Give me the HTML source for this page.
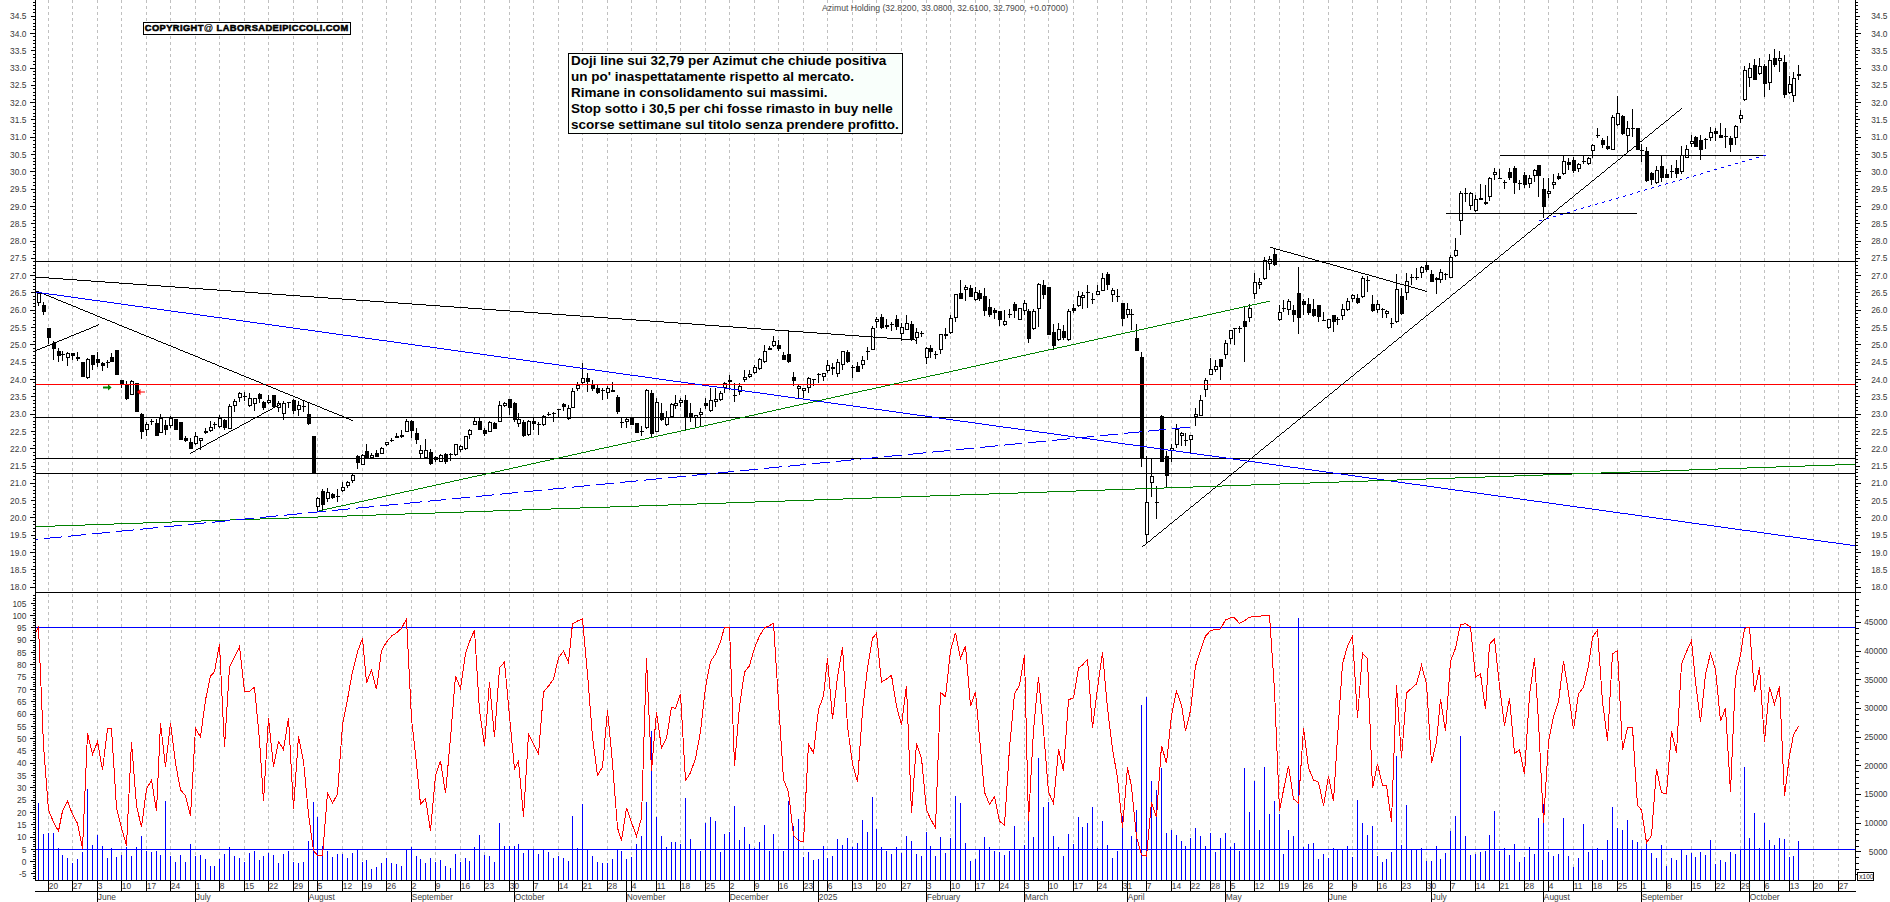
<!DOCTYPE html>
<html><head><meta charset="utf-8"><title>Azimut Holding</title>
<style>
html,body{margin:0;padding:0;background:#fff;}
body{width:1890px;height:902px;position:relative;overflow:hidden;font-family:"Liberation Sans",sans-serif;}
.l{position:absolute;font-size:8.4px;line-height:10px;color:#3a3a3a;white-space:nowrap;letter-spacing:0px;}
.r{text-align:right;}
#title{position:absolute;left:822px;top:2.5px;font-size:8.65px;line-height:10px;color:#4a4a4a;white-space:nowrap;width:246px;}
#cp{position:absolute;left:143px;top:22px;width:206px;height:11px;border:1px solid #000;background:#fff;box-sizing:content-box;}
#cp span{position:absolute;left:0.8px;top:-1.2px;font-size:9.3px;line-height:12px;font-weight:bold;color:#000;white-space:nowrap;-webkit-text-stroke:0.55px #000;letter-spacing:0.41px;transform-origin:0 0;}
#cp i{font-style:normal;font-weight:normal;-webkit-text-stroke:0.2px #000;}
#note{position:absolute;left:568px;top:53px;width:333px;height:79px;border:1px solid #000;background:#f9fffb;}
#note div{position:absolute;left:2px;top:-0.8px;font-size:13.5px;line-height:16px;font-weight:bold;color:#000;white-space:nowrap;}
</style></head><body>
<svg width="1890" height="902" viewBox="0 0 1890 902" shape-rendering="crispEdges" style="position:absolute;left:0;top:0"><rect x="0" y="0" width="1890" height="902" fill="#fff"/><path d="M48.5 0V880 M72.5 0V880 M97.5 0V880 M121.5 0V880 M146.5 0V880 M170.5 0V880 M195.5 0V880 M219.5 0V880 M244.5 0V880 M268.5 0V880 M293.5 0V880 M317.5 0V880 M342.5 0V880 M362.5 0V880 M386.5 0V880 M411.5 0V880 M435.5 0V880 M460.5 0V880 M484.5 0V880 M509.5 0V880 M533.5 0V880 M558.5 0V880 M582.5 0V880 M607.5 0V880 M631.5 0V880 M656.5 0V880 M680.5 0V880 M705.5 0V880 M729.5 0V880 M754.5 0V880 M778.5 0V880 M803.5 0V880 M827.5 0V880 M852.5 0V880 M876.5 0V880 M901.5 0V880 M926.5 0V880 M950.5 0V880 M975.5 0V880 M999.5 0V880 M1024.5 0V880 M1048.5 0V880 M1073.5 0V880 M1097.5 0V880 M1122.5 0V880 M1146.5 0V880 M1171.5 0V880 M1190.5 0V880 M1210.5 0V880 M1230.5 0V880 M1254.5 0V880 M1279.5 0V880 M1303.5 0V880 M1328.5 0V880 M1352.5 0V880 M1377.5 0V880 M1401.5 0V880 M1426.5 0V880 M1450.5 0V880 M1475.5 0V880 M1499.5 0V880 M1524.5 0V880 M1548.5 0V880 M1573.5 0V880 M1592.5 0V880 M1617.5 0V880 M1641.5 0V880 M1666.5 0V880 M1691.5 0V880 M1715.5 0V880 M1740.5 0V880 M1764.5 0V880 M1789.5 0V880 M1813.5 0V880 M1838.5 0V880" stroke="#c0c0c0" stroke-width="1" stroke-dasharray="3 3" fill="none"/><rect x="38" y="292" width="1" height="14" fill="#000"/><rect x="37" y="293" width="4" height="10" fill="#000"/><rect x="38" y="294" width="2" height="8" fill="#fff"/><rect x="43" y="302" width="1" height="13" fill="#000"/><rect x="42" y="305" width="4" height="7" fill="#000"/><rect x="48" y="328" width="1" height="16" fill="#000"/><rect x="47" y="328" width="4" height="10" fill="#000"/><rect x="53" y="341" width="1" height="19" fill="#000"/><rect x="52" y="343" width="4" height="6" fill="#000"/><rect x="58" y="348" width="1" height="14" fill="#000"/><rect x="57" y="351" width="4" height="5" fill="#000"/><rect x="62" y="351" width="1" height="10" fill="#000"/><rect x="61" y="354" width="4" height="1" fill="#000"/><rect x="67" y="352" width="1" height="14" fill="#000"/><rect x="66" y="353" width="4" height="5" fill="#000"/><rect x="67" y="354" width="2" height="3" fill="#fff"/><rect x="72" y="353" width="1" height="7" fill="#000"/><rect x="71" y="353" width="4" height="3" fill="#000"/><rect x="77" y="352" width="1" height="9" fill="#000"/><rect x="76" y="357" width="4" height="2" fill="#000"/><rect x="82" y="362" width="1" height="15" fill="#000"/><rect x="81" y="362" width="4" height="15" fill="#000"/><rect x="87" y="358" width="1" height="21" fill="#000"/><rect x="86" y="359" width="4" height="19" fill="#000"/><rect x="87" y="360" width="2" height="17" fill="#fff"/><rect x="92" y="355" width="1" height="15" fill="#000"/><rect x="91" y="355" width="4" height="10" fill="#000"/><rect x="97" y="352" width="1" height="15" fill="#000"/><rect x="96" y="359" width="4" height="4" fill="#000"/><rect x="102" y="362" width="1" height="9" fill="#000"/><rect x="101" y="363" width="4" height="3" fill="#000"/><rect x="107" y="360" width="1" height="8" fill="#000"/><rect x="106" y="362" width="4" height="1" fill="#000"/><rect x="111" y="353" width="1" height="9" fill="#000"/><rect x="110" y="357" width="4" height="5" fill="#000"/><rect x="116" y="350" width="1" height="25" fill="#000"/><rect x="115" y="350" width="4" height="25" fill="#000"/><rect x="121" y="380" width="1" height="8" fill="#000"/><rect x="120" y="380" width="4" height="5" fill="#000"/><rect x="126" y="381" width="1" height="19" fill="#000"/><rect x="125" y="384" width="4" height="15" fill="#000"/><rect x="131" y="380" width="1" height="15" fill="#000"/><rect x="130" y="381" width="4" height="14" fill="#000"/><rect x="131" y="382" width="2" height="12" fill="#fff"/><rect x="136" y="383" width="1" height="29" fill="#000"/><rect x="135" y="383" width="4" height="29" fill="#000"/><rect x="141" y="413" width="1" height="26" fill="#000"/><rect x="140" y="414" width="4" height="18" fill="#000"/><rect x="146" y="422" width="1" height="14" fill="#000"/><rect x="145" y="424" width="4" height="6" fill="#000"/><rect x="146" y="425" width="2" height="4" fill="#fff"/><rect x="151" y="419" width="1" height="6" fill="#000"/><rect x="150" y="421" width="4" height="1" fill="#000"/><rect x="156" y="419" width="1" height="17" fill="#000"/><rect x="155" y="423" width="4" height="13" fill="#000"/><rect x="160" y="414" width="1" height="19" fill="#000"/><rect x="159" y="418" width="4" height="15" fill="#000"/><rect x="160" y="419" width="2" height="13" fill="#fff"/><rect x="165" y="420" width="1" height="15" fill="#000"/><rect x="164" y="425" width="4" height="5" fill="#000"/><rect x="170" y="416" width="1" height="12" fill="#000"/><rect x="169" y="418" width="4" height="8" fill="#000"/><rect x="170" y="419" width="2" height="6" fill="#fff"/><rect x="175" y="419" width="1" height="11" fill="#000"/><rect x="174" y="419" width="4" height="11" fill="#000"/><rect x="180" y="422" width="1" height="18" fill="#000"/><rect x="179" y="422" width="4" height="18" fill="#000"/><rect x="185" y="436" width="1" height="6" fill="#000"/><rect x="184" y="438" width="4" height="3" fill="#000"/><rect x="190" y="438" width="1" height="11" fill="#000"/><rect x="189" y="442" width="4" height="7" fill="#000"/><rect x="195" y="432" width="1" height="13" fill="#000"/><rect x="194" y="436" width="4" height="8" fill="#000"/><rect x="195" y="437" width="2" height="6" fill="#fff"/><rect x="200" y="438" width="1" height="12" fill="#000"/><rect x="199" y="438" width="4" height="3" fill="#000"/><rect x="200" y="439" width="2" height="1" fill="#fff"/><rect x="205" y="428" width="1" height="6" fill="#000"/><rect x="204" y="431" width="4" height="2" fill="#000"/><rect x="210" y="421" width="1" height="11" fill="#000"/><rect x="209" y="427" width="4" height="4" fill="#000"/><rect x="210" y="428" width="2" height="2" fill="#fff"/><rect x="214" y="422" width="1" height="7" fill="#000"/><rect x="213" y="424" width="4" height="1" fill="#000"/><rect x="219" y="415" width="1" height="13" fill="#000"/><rect x="218" y="418" width="4" height="9" fill="#000"/><rect x="219" y="419" width="2" height="7" fill="#fff"/><rect x="224" y="419" width="1" height="11" fill="#000"/><rect x="223" y="420" width="4" height="8" fill="#000"/><rect x="229" y="404" width="1" height="25" fill="#000"/><rect x="228" y="406" width="4" height="23" fill="#000"/><rect x="229" y="407" width="2" height="21" fill="#fff"/><rect x="234" y="399" width="1" height="13" fill="#000"/><rect x="233" y="401" width="4" height="5" fill="#000"/><rect x="234" y="402" width="2" height="3" fill="#fff"/><rect x="239" y="392" width="1" height="10" fill="#000"/><rect x="238" y="393" width="4" height="5" fill="#000"/><rect x="239" y="394" width="2" height="3" fill="#fff"/><rect x="244" y="392" width="1" height="9" fill="#000"/><rect x="243" y="396" width="4" height="1" fill="#000"/><rect x="249" y="393" width="1" height="14" fill="#000"/><rect x="248" y="398" width="4" height="8" fill="#000"/><rect x="249" y="399" width="2" height="6" fill="#fff"/><rect x="254" y="398" width="1" height="13" fill="#000"/><rect x="253" y="398" width="4" height="6" fill="#000"/><rect x="254" y="399" width="2" height="4" fill="#fff"/><rect x="259" y="393" width="1" height="10" fill="#000"/><rect x="258" y="394" width="4" height="5" fill="#000"/><rect x="263" y="401" width="1" height="9" fill="#000"/><rect x="262" y="402" width="4" height="6" fill="#000"/><rect x="268" y="395" width="1" height="9" fill="#000"/><rect x="267" y="400" width="4" height="3" fill="#000"/><rect x="268" y="401" width="2" height="1" fill="#fff"/><rect x="273" y="395" width="1" height="12" fill="#000"/><rect x="272" y="395" width="4" height="12" fill="#000"/><rect x="278" y="401" width="1" height="11" fill="#000"/><rect x="277" y="403" width="4" height="5" fill="#000"/><rect x="278" y="404" width="2" height="3" fill="#fff"/><rect x="283" y="401" width="1" height="19" fill="#000"/><rect x="282" y="403" width="4" height="11" fill="#000"/><rect x="283" y="404" width="2" height="9" fill="#fff"/><rect x="288" y="402" width="1" height="6" fill="#000"/><rect x="287" y="402" width="4" height="1" fill="#000"/><rect x="293" y="399" width="1" height="15" fill="#000"/><rect x="292" y="400" width="4" height="11" fill="#000"/><rect x="298" y="401" width="1" height="15" fill="#000"/><rect x="297" y="405" width="4" height="5" fill="#000"/><rect x="298" y="406" width="2" height="3" fill="#fff"/><rect x="303" y="401" width="1" height="11" fill="#000"/><rect x="302" y="406" width="4" height="1" fill="#000"/><rect x="308" y="402" width="1" height="23" fill="#000"/><rect x="307" y="414" width="4" height="10" fill="#000"/><rect x="313" y="436" width="1" height="37" fill="#000"/><rect x="312" y="436" width="4" height="37" fill="#000"/><rect x="317" y="497" width="1" height="15" fill="#000"/><rect x="316" y="498" width="4" height="9" fill="#000"/><rect x="317" y="499" width="2" height="7" fill="#fff"/><rect x="322" y="489" width="1" height="21" fill="#000"/><rect x="321" y="491" width="4" height="14" fill="#000"/><rect x="327" y="488" width="1" height="14" fill="#000"/><rect x="326" y="492" width="4" height="7" fill="#000"/><rect x="327" y="493" width="2" height="5" fill="#fff"/><rect x="332" y="493" width="1" height="6" fill="#000"/><rect x="331" y="494" width="4" height="4" fill="#000"/><rect x="337" y="489" width="1" height="13" fill="#000"/><rect x="336" y="496" width="4" height="1" fill="#000"/><rect x="342" y="482" width="1" height="10" fill="#000"/><rect x="341" y="487" width="4" height="4" fill="#000"/><rect x="342" y="488" width="2" height="2" fill="#fff"/><rect x="347" y="481" width="1" height="7" fill="#000"/><rect x="346" y="482" width="4" height="4" fill="#000"/><rect x="347" y="483" width="2" height="2" fill="#fff"/><rect x="352" y="474" width="1" height="9" fill="#000"/><rect x="351" y="475" width="4" height="6" fill="#000"/><rect x="352" y="476" width="2" height="4" fill="#fff"/><rect x="357" y="455" width="1" height="14" fill="#000"/><rect x="356" y="456" width="4" height="7" fill="#000"/><rect x="362" y="454" width="1" height="11" fill="#000"/><rect x="361" y="455" width="4" height="10" fill="#000"/><rect x="362" y="456" width="2" height="8" fill="#fff"/><rect x="366" y="444" width="1" height="14" fill="#000"/><rect x="365" y="451" width="4" height="7" fill="#000"/><rect x="371" y="453" width="1" height="5" fill="#000"/><rect x="370" y="455" width="4" height="3" fill="#000"/><rect x="371" y="456" width="2" height="1" fill="#fff"/><rect x="376" y="450" width="1" height="7" fill="#000"/><rect x="375" y="453" width="4" height="4" fill="#000"/><rect x="381" y="447" width="1" height="7" fill="#000"/><rect x="380" y="448" width="4" height="6" fill="#000"/><rect x="381" y="449" width="2" height="4" fill="#fff"/><rect x="386" y="442" width="1" height="4" fill="#000"/><rect x="385" y="442" width="4" height="3" fill="#000"/><rect x="386" y="443" width="2" height="1" fill="#fff"/><rect x="391" y="438" width="1" height="4" fill="#000"/><rect x="390" y="440" width="4" height="1" fill="#000"/><rect x="396" y="433" width="1" height="5" fill="#000"/><rect x="395" y="436" width="4" height="2" fill="#000"/><rect x="401" y="430" width="1" height="8" fill="#000"/><rect x="400" y="435" width="4" height="2" fill="#000"/><rect x="406" y="419" width="1" height="13" fill="#000"/><rect x="405" y="421" width="4" height="11" fill="#000"/><rect x="406" y="422" width="2" height="9" fill="#fff"/><rect x="411" y="420" width="1" height="18" fill="#000"/><rect x="410" y="421" width="4" height="10" fill="#000"/><rect x="416" y="428" width="1" height="16" fill="#000"/><rect x="415" y="433" width="4" height="7" fill="#000"/><rect x="420" y="445" width="1" height="13" fill="#000"/><rect x="419" y="450" width="4" height="4" fill="#000"/><rect x="420" y="451" width="2" height="2" fill="#fff"/><rect x="425" y="439" width="1" height="19" fill="#000"/><rect x="424" y="450" width="4" height="8" fill="#000"/><rect x="425" y="451" width="2" height="6" fill="#fff"/><rect x="430" y="449" width="1" height="16" fill="#000"/><rect x="429" y="452" width="4" height="12" fill="#000"/><rect x="435" y="456" width="1" height="6" fill="#000"/><rect x="434" y="457" width="4" height="3" fill="#000"/><rect x="440" y="454" width="1" height="8" fill="#000"/><rect x="439" y="455" width="4" height="7" fill="#000"/><rect x="440" y="456" width="2" height="5" fill="#fff"/><rect x="445" y="453" width="1" height="11" fill="#000"/><rect x="444" y="454" width="4" height="8" fill="#000"/><rect x="450" y="453" width="1" height="8" fill="#000"/><rect x="449" y="454" width="4" height="1" fill="#000"/><rect x="455" y="444" width="1" height="12" fill="#000"/><rect x="454" y="444" width="4" height="11" fill="#000"/><rect x="455" y="445" width="2" height="9" fill="#fff"/><rect x="460" y="445" width="1" height="7" fill="#000"/><rect x="459" y="446" width="4" height="4" fill="#000"/><rect x="460" y="447" width="2" height="2" fill="#fff"/><rect x="465" y="436" width="1" height="14" fill="#000"/><rect x="464" y="436" width="4" height="13" fill="#000"/><rect x="465" y="437" width="2" height="11" fill="#fff"/><rect x="469" y="429" width="1" height="10" fill="#000"/><rect x="468" y="430" width="4" height="5" fill="#000"/><rect x="469" y="431" width="2" height="3" fill="#fff"/><rect x="474" y="418" width="1" height="7" fill="#000"/><rect x="473" y="421" width="4" height="4" fill="#000"/><rect x="474" y="422" width="2" height="2" fill="#fff"/><rect x="479" y="418" width="1" height="12" fill="#000"/><rect x="478" y="421" width="4" height="9" fill="#000"/><rect x="484" y="428" width="1" height="8" fill="#000"/><rect x="483" y="430" width="4" height="4" fill="#000"/><rect x="489" y="421" width="1" height="11" fill="#000"/><rect x="488" y="422" width="4" height="10" fill="#000"/><rect x="489" y="423" width="2" height="8" fill="#fff"/><rect x="494" y="422" width="1" height="7" fill="#000"/><rect x="493" y="423" width="4" height="6" fill="#000"/><rect x="499" y="401" width="1" height="21" fill="#000"/><rect x="498" y="405" width="4" height="17" fill="#000"/><rect x="499" y="406" width="2" height="15" fill="#fff"/><rect x="504" y="402" width="1" height="5" fill="#000"/><rect x="503" y="403" width="4" height="3" fill="#000"/><rect x="504" y="404" width="2" height="1" fill="#fff"/><rect x="509" y="399" width="1" height="16" fill="#000"/><rect x="508" y="399" width="4" height="9" fill="#000"/><rect x="514" y="402" width="1" height="20" fill="#000"/><rect x="513" y="403" width="4" height="17" fill="#000"/><rect x="518" y="413" width="1" height="14" fill="#000"/><rect x="517" y="419" width="4" height="5" fill="#000"/><rect x="518" y="420" width="2" height="3" fill="#fff"/><rect x="523" y="420" width="1" height="17" fill="#000"/><rect x="522" y="422" width="4" height="14" fill="#000"/><rect x="528" y="420" width="1" height="16" fill="#000"/><rect x="527" y="421" width="4" height="14" fill="#000"/><rect x="528" y="422" width="2" height="12" fill="#fff"/><rect x="533" y="418" width="1" height="12" fill="#000"/><rect x="532" y="421" width="4" height="3" fill="#000"/><rect x="538" y="422" width="1" height="13" fill="#000"/><rect x="537" y="424" width="4" height="1" fill="#000"/><rect x="543" y="415" width="1" height="11" fill="#000"/><rect x="542" y="416" width="4" height="9" fill="#000"/><rect x="543" y="417" width="2" height="7" fill="#fff"/><rect x="548" y="412" width="1" height="4" fill="#000"/><rect x="547" y="414" width="4" height="1" fill="#000"/><rect x="553" y="412" width="1" height="10" fill="#000"/><rect x="552" y="413" width="4" height="1" fill="#000"/><rect x="558" y="409" width="1" height="8" fill="#000"/><rect x="557" y="409" width="4" height="1" fill="#000"/><rect x="563" y="403" width="1" height="8" fill="#000"/><rect x="562" y="404" width="4" height="3" fill="#000"/><rect x="568" y="405" width="1" height="15" fill="#000"/><rect x="567" y="408" width="4" height="11" fill="#000"/><rect x="568" y="409" width="2" height="9" fill="#fff"/><rect x="572" y="388" width="1" height="20" fill="#000"/><rect x="571" y="391" width="4" height="17" fill="#000"/><rect x="572" y="392" width="2" height="15" fill="#fff"/><rect x="577" y="382" width="1" height="9" fill="#000"/><rect x="576" y="385" width="4" height="4" fill="#000"/><rect x="577" y="386" width="2" height="2" fill="#fff"/><rect x="582" y="363" width="1" height="21" fill="#000"/><rect x="581" y="378" width="4" height="5" fill="#000"/><rect x="582" y="379" width="2" height="3" fill="#fff"/><rect x="587" y="373" width="1" height="19" fill="#000"/><rect x="586" y="378" width="4" height="4" fill="#000"/><rect x="592" y="380" width="1" height="11" fill="#000"/><rect x="591" y="385" width="4" height="4" fill="#000"/><rect x="597" y="385" width="1" height="9" fill="#000"/><rect x="596" y="388" width="4" height="5" fill="#000"/><rect x="602" y="388" width="1" height="12" fill="#000"/><rect x="601" y="390" width="4" height="1" fill="#000"/><rect x="607" y="386" width="1" height="13" fill="#000"/><rect x="606" y="388" width="4" height="5" fill="#000"/><rect x="607" y="389" width="2" height="3" fill="#fff"/><rect x="612" y="382" width="1" height="10" fill="#000"/><rect x="611" y="390" width="4" height="2" fill="#000"/><rect x="617" y="395" width="1" height="19" fill="#000"/><rect x="616" y="397" width="4" height="15" fill="#000"/><rect x="621" y="417" width="1" height="11" fill="#000"/><rect x="620" y="422" width="4" height="1" fill="#000"/><rect x="626" y="417" width="1" height="11" fill="#000"/><rect x="625" y="419" width="4" height="3" fill="#000"/><rect x="626" y="420" width="2" height="1" fill="#fff"/><rect x="631" y="418" width="1" height="7" fill="#000"/><rect x="630" y="418" width="4" height="7" fill="#000"/><rect x="636" y="423" width="1" height="10" fill="#000"/><rect x="635" y="423" width="4" height="10" fill="#000"/><rect x="641" y="426" width="1" height="10" fill="#000"/><rect x="640" y="431" width="4" height="1" fill="#000"/><rect x="646" y="389" width="1" height="40" fill="#000"/><rect x="645" y="390" width="4" height="38" fill="#000"/><rect x="646" y="391" width="2" height="36" fill="#fff"/><rect x="651" y="390" width="1" height="47" fill="#000"/><rect x="650" y="393" width="4" height="41" fill="#000"/><rect x="656" y="398" width="1" height="34" fill="#000"/><rect x="655" y="402" width="4" height="30" fill="#000"/><rect x="656" y="403" width="2" height="28" fill="#fff"/><rect x="661" y="403" width="1" height="18" fill="#000"/><rect x="660" y="413" width="4" height="7" fill="#000"/><rect x="666" y="411" width="1" height="15" fill="#000"/><rect x="665" y="417" width="4" height="8" fill="#000"/><rect x="666" y="418" width="2" height="6" fill="#fff"/><rect x="671" y="403" width="1" height="14" fill="#000"/><rect x="670" y="404" width="4" height="13" fill="#000"/><rect x="671" y="405" width="2" height="11" fill="#fff"/><rect x="675" y="395" width="1" height="14" fill="#000"/><rect x="674" y="403" width="4" height="3" fill="#000"/><rect x="675" y="404" width="2" height="1" fill="#fff"/><rect x="680" y="398" width="1" height="9" fill="#000"/><rect x="679" y="400" width="4" height="3" fill="#000"/><rect x="680" y="401" width="2" height="1" fill="#fff"/><rect x="685" y="395" width="1" height="35" fill="#000"/><rect x="684" y="400" width="4" height="18" fill="#000"/><rect x="690" y="403" width="1" height="19" fill="#000"/><rect x="689" y="413" width="4" height="5" fill="#000"/><rect x="695" y="415" width="1" height="13" fill="#000"/><rect x="694" y="415" width="4" height="3" fill="#000"/><rect x="695" y="416" width="2" height="1" fill="#fff"/><rect x="700" y="408" width="1" height="18" fill="#000"/><rect x="699" y="412" width="4" height="3" fill="#000"/><rect x="700" y="413" width="2" height="1" fill="#fff"/><rect x="705" y="398" width="1" height="11" fill="#000"/><rect x="704" y="403" width="4" height="3" fill="#000"/><rect x="710" y="388" width="1" height="24" fill="#000"/><rect x="709" y="400" width="4" height="11" fill="#000"/><rect x="710" y="401" width="2" height="9" fill="#fff"/><rect x="715" y="388" width="1" height="19" fill="#000"/><rect x="714" y="399" width="4" height="3" fill="#000"/><rect x="715" y="400" width="2" height="1" fill="#fff"/><rect x="720" y="391" width="1" height="10" fill="#000"/><rect x="719" y="393" width="4" height="7" fill="#000"/><rect x="720" y="394" width="2" height="5" fill="#fff"/><rect x="724" y="382" width="1" height="11" fill="#000"/><rect x="723" y="383" width="4" height="5" fill="#000"/><rect x="724" y="384" width="2" height="3" fill="#fff"/><rect x="729" y="375" width="1" height="15" fill="#000"/><rect x="728" y="380" width="4" height="2" fill="#000"/><rect x="734" y="383" width="1" height="19" fill="#000"/><rect x="733" y="395" width="4" height="1" fill="#000"/><rect x="739" y="383" width="1" height="12" fill="#000"/><rect x="738" y="386" width="4" height="6" fill="#000"/><rect x="739" y="387" width="2" height="4" fill="#fff"/><rect x="744" y="370" width="1" height="12" fill="#000"/><rect x="743" y="377" width="4" height="3" fill="#000"/><rect x="744" y="378" width="2" height="1" fill="#fff"/><rect x="749" y="370" width="1" height="8" fill="#000"/><rect x="748" y="374" width="4" height="3" fill="#000"/><rect x="749" y="375" width="2" height="1" fill="#fff"/><rect x="754" y="365" width="1" height="9" fill="#000"/><rect x="753" y="367" width="4" height="6" fill="#000"/><rect x="754" y="368" width="2" height="4" fill="#fff"/><rect x="759" y="358" width="1" height="12" fill="#000"/><rect x="758" y="359" width="4" height="10" fill="#000"/><rect x="759" y="360" width="2" height="8" fill="#fff"/><rect x="764" y="345" width="1" height="18" fill="#000"/><rect x="763" y="351" width="4" height="11" fill="#000"/><rect x="764" y="352" width="2" height="9" fill="#fff"/><rect x="769" y="346" width="1" height="4" fill="#000"/><rect x="768" y="348" width="4" height="2" fill="#000"/><rect x="773" y="336" width="1" height="11" fill="#000"/><rect x="772" y="341" width="4" height="5" fill="#000"/><rect x="773" y="342" width="2" height="3" fill="#fff"/><rect x="778" y="340" width="1" height="11" fill="#000"/><rect x="777" y="345" width="4" height="4" fill="#000"/><rect x="783" y="352" width="1" height="8" fill="#000"/><rect x="782" y="355" width="4" height="5" fill="#000"/><rect x="788" y="330" width="1" height="33" fill="#000"/><rect x="787" y="354" width="4" height="8" fill="#000"/><rect x="793" y="372" width="1" height="14" fill="#000"/><rect x="792" y="377" width="4" height="4" fill="#000"/><rect x="798" y="385" width="1" height="13" fill="#000"/><rect x="797" y="386" width="4" height="3" fill="#000"/><rect x="798" y="387" width="2" height="1" fill="#fff"/><rect x="803" y="388" width="1" height="10" fill="#000"/><rect x="802" y="388" width="4" height="3" fill="#000"/><rect x="803" y="389" width="2" height="1" fill="#fff"/><rect x="808" y="377" width="1" height="16" fill="#000"/><rect x="807" y="378" width="4" height="10" fill="#000"/><rect x="808" y="379" width="2" height="8" fill="#fff"/><rect x="813" y="379" width="1" height="7" fill="#000"/><rect x="812" y="379" width="4" height="1" fill="#000"/><rect x="818" y="373" width="1" height="10" fill="#000"/><rect x="817" y="374" width="4" height="1" fill="#000"/><rect x="823" y="373" width="1" height="8" fill="#000"/><rect x="822" y="373" width="4" height="4" fill="#000"/><rect x="823" y="374" width="2" height="2" fill="#fff"/><rect x="827" y="360" width="1" height="13" fill="#000"/><rect x="826" y="365" width="4" height="6" fill="#000"/><rect x="827" y="366" width="2" height="4" fill="#fff"/><rect x="832" y="363" width="1" height="12" fill="#000"/><rect x="831" y="367" width="4" height="2" fill="#000"/><rect x="837" y="359" width="1" height="18" fill="#000"/><rect x="836" y="362" width="4" height="12" fill="#000"/><rect x="837" y="363" width="2" height="10" fill="#fff"/><rect x="842" y="351" width="1" height="19" fill="#000"/><rect x="841" y="351" width="4" height="14" fill="#000"/><rect x="842" y="352" width="2" height="12" fill="#fff"/><rect x="847" y="350" width="1" height="13" fill="#000"/><rect x="846" y="352" width="4" height="10" fill="#000"/><rect x="852" y="365" width="1" height="13" fill="#000"/><rect x="851" y="367" width="4" height="1" fill="#000"/><rect x="857" y="362" width="1" height="10" fill="#000"/><rect x="856" y="366" width="4" height="6" fill="#000"/><rect x="862" y="356" width="1" height="13" fill="#000"/><rect x="861" y="360" width="4" height="5" fill="#000"/><rect x="862" y="361" width="2" height="3" fill="#fff"/><rect x="867" y="347" width="1" height="13" fill="#000"/><rect x="866" y="351" width="4" height="1" fill="#000"/><rect x="872" y="326" width="1" height="24" fill="#000"/><rect x="871" y="328" width="4" height="22" fill="#000"/><rect x="872" y="329" width="2" height="20" fill="#fff"/><rect x="876" y="317" width="1" height="11" fill="#000"/><rect x="875" y="319" width="4" height="3" fill="#000"/><rect x="876" y="320" width="2" height="1" fill="#fff"/><rect x="881" y="314" width="1" height="15" fill="#000"/><rect x="880" y="317" width="4" height="11" fill="#000"/><rect x="886" y="319" width="1" height="10" fill="#000"/><rect x="885" y="325" width="4" height="2" fill="#000"/><rect x="891" y="322" width="1" height="9" fill="#000"/><rect x="890" y="324" width="4" height="1" fill="#000"/><rect x="896" y="315" width="1" height="15" fill="#000"/><rect x="895" y="319" width="4" height="8" fill="#000"/><rect x="901" y="323" width="1" height="18" fill="#000"/><rect x="900" y="327" width="4" height="7" fill="#000"/><rect x="901" y="328" width="2" height="5" fill="#fff"/><rect x="906" y="315" width="1" height="15" fill="#000"/><rect x="905" y="323" width="4" height="7" fill="#000"/><rect x="906" y="324" width="2" height="5" fill="#fff"/><rect x="911" y="321" width="1" height="20" fill="#000"/><rect x="910" y="324" width="4" height="16" fill="#000"/><rect x="916" y="328" width="1" height="16" fill="#000"/><rect x="915" y="332" width="4" height="6" fill="#000"/><rect x="916" y="333" width="2" height="4" fill="#fff"/><rect x="921" y="331" width="1" height="6" fill="#000"/><rect x="920" y="333" width="4" height="1" fill="#000"/><rect x="926" y="347" width="1" height="17" fill="#000"/><rect x="925" y="348" width="4" height="10" fill="#000"/><rect x="926" y="349" width="2" height="8" fill="#fff"/><rect x="930" y="345" width="1" height="13" fill="#000"/><rect x="929" y="348" width="4" height="4" fill="#000"/><rect x="935" y="351" width="1" height="8" fill="#000"/><rect x="934" y="354" width="4" height="1" fill="#000"/><rect x="940" y="334" width="1" height="20" fill="#000"/><rect x="939" y="334" width="4" height="16" fill="#000"/><rect x="940" y="335" width="2" height="14" fill="#fff"/><rect x="945" y="328" width="1" height="11" fill="#000"/><rect x="944" y="334" width="4" height="2" fill="#000"/><rect x="950" y="315" width="1" height="19" fill="#000"/><rect x="949" y="318" width="4" height="15" fill="#000"/><rect x="950" y="319" width="2" height="13" fill="#fff"/><rect x="955" y="294" width="1" height="28" fill="#000"/><rect x="954" y="294" width="4" height="24" fill="#000"/><rect x="955" y="295" width="2" height="22" fill="#fff"/><rect x="960" y="280" width="1" height="19" fill="#000"/><rect x="959" y="293" width="4" height="6" fill="#000"/><rect x="965" y="285" width="1" height="16" fill="#000"/><rect x="964" y="287" width="4" height="3" fill="#000"/><rect x="965" y="288" width="2" height="1" fill="#fff"/><rect x="970" y="285" width="1" height="12" fill="#000"/><rect x="969" y="288" width="4" height="9" fill="#000"/><rect x="975" y="287" width="1" height="14" fill="#000"/><rect x="974" y="292" width="4" height="8" fill="#000"/><rect x="975" y="293" width="2" height="6" fill="#fff"/><rect x="979" y="290" width="1" height="11" fill="#000"/><rect x="978" y="293" width="4" height="6" fill="#000"/><rect x="984" y="288" width="1" height="28" fill="#000"/><rect x="983" y="296" width="4" height="15" fill="#000"/><rect x="989" y="299" width="1" height="18" fill="#000"/><rect x="988" y="307" width="4" height="8" fill="#000"/><rect x="994" y="308" width="1" height="11" fill="#000"/><rect x="993" y="310" width="4" height="3" fill="#000"/><rect x="999" y="311" width="1" height="15" fill="#000"/><rect x="998" y="311" width="4" height="9" fill="#000"/><rect x="1004" y="310" width="1" height="16" fill="#000"/><rect x="1003" y="321" width="4" height="4" fill="#000"/><rect x="1004" y="322" width="2" height="2" fill="#fff"/><rect x="1009" y="309" width="1" height="9" fill="#000"/><rect x="1008" y="314" width="4" height="1" fill="#000"/><rect x="1014" y="302" width="1" height="16" fill="#000"/><rect x="1013" y="304" width="4" height="7" fill="#000"/><rect x="1019" y="308" width="1" height="12" fill="#000"/><rect x="1018" y="308" width="4" height="12" fill="#000"/><rect x="1019" y="309" width="2" height="10" fill="#fff"/><rect x="1024" y="300" width="1" height="15" fill="#000"/><rect x="1023" y="303" width="4" height="8" fill="#000"/><rect x="1024" y="304" width="2" height="6" fill="#fff"/><rect x="1028" y="309" width="1" height="34" fill="#000"/><rect x="1027" y="311" width="4" height="28" fill="#000"/><rect x="1033" y="309" width="1" height="21" fill="#000"/><rect x="1032" y="311" width="4" height="18" fill="#000"/><rect x="1033" y="312" width="2" height="16" fill="#fff"/><rect x="1038" y="283" width="1" height="44" fill="#000"/><rect x="1037" y="284" width="4" height="25" fill="#000"/><rect x="1038" y="285" width="2" height="23" fill="#fff"/><rect x="1043" y="280" width="1" height="19" fill="#000"/><rect x="1042" y="285" width="4" height="10" fill="#000"/><rect x="1048" y="287" width="1" height="48" fill="#000"/><rect x="1047" y="287" width="4" height="48" fill="#000"/><rect x="1053" y="324" width="1" height="26" fill="#000"/><rect x="1052" y="332" width="4" height="14" fill="#000"/><rect x="1058" y="323" width="1" height="18" fill="#000"/><rect x="1057" y="329" width="4" height="11" fill="#000"/><rect x="1058" y="330" width="2" height="9" fill="#fff"/><rect x="1063" y="325" width="1" height="15" fill="#000"/><rect x="1062" y="331" width="4" height="7" fill="#000"/><rect x="1068" y="309" width="1" height="32" fill="#000"/><rect x="1067" y="311" width="4" height="29" fill="#000"/><rect x="1068" y="312" width="2" height="27" fill="#fff"/><rect x="1073" y="304" width="1" height="9" fill="#000"/><rect x="1072" y="308" width="4" height="3" fill="#000"/><rect x="1078" y="291" width="1" height="16" fill="#000"/><rect x="1077" y="296" width="4" height="10" fill="#000"/><rect x="1078" y="297" width="2" height="8" fill="#fff"/><rect x="1082" y="292" width="1" height="17" fill="#000"/><rect x="1081" y="295" width="4" height="3" fill="#000"/><rect x="1082" y="296" width="2" height="1" fill="#fff"/><rect x="1087" y="285" width="1" height="23" fill="#000"/><rect x="1086" y="292" width="4" height="1" fill="#000"/><rect x="1092" y="293" width="1" height="11" fill="#000"/><rect x="1091" y="299" width="4" height="1" fill="#000"/><rect x="1097" y="285" width="1" height="10" fill="#000"/><rect x="1096" y="291" width="4" height="4" fill="#000"/><rect x="1097" y="292" width="2" height="2" fill="#fff"/><rect x="1102" y="273" width="1" height="18" fill="#000"/><rect x="1101" y="278" width="4" height="13" fill="#000"/><rect x="1102" y="279" width="2" height="11" fill="#fff"/><rect x="1107" y="272" width="1" height="18" fill="#000"/><rect x="1106" y="274" width="4" height="11" fill="#000"/><rect x="1112" y="288" width="1" height="14" fill="#000"/><rect x="1111" y="290" width="4" height="5" fill="#000"/><rect x="1112" y="291" width="2" height="3" fill="#fff"/><rect x="1117" y="289" width="1" height="13" fill="#000"/><rect x="1116" y="296" width="4" height="1" fill="#000"/><rect x="1122" y="303" width="1" height="23" fill="#000"/><rect x="1121" y="303" width="4" height="16" fill="#000"/><rect x="1127" y="303" width="1" height="15" fill="#000"/><rect x="1126" y="309" width="4" height="6" fill="#000"/><rect x="1127" y="310" width="2" height="4" fill="#fff"/><rect x="1131" y="309" width="1" height="21" fill="#000"/><rect x="1130" y="314" width="4" height="1" fill="#000"/><rect x="1136" y="324" width="1" height="27" fill="#000"/><rect x="1135" y="338" width="4" height="13" fill="#000"/><rect x="1141" y="352" width="1" height="115" fill="#000"/><rect x="1140" y="357" width="4" height="101" fill="#000"/><rect x="1146" y="456" width="1" height="87" fill="#000"/><rect x="1145" y="502" width="4" height="33" fill="#000"/><rect x="1146" y="503" width="2" height="31" fill="#fff"/><rect x="1151" y="459" width="1" height="38" fill="#000"/><rect x="1150" y="476" width="4" height="7" fill="#000"/><rect x="1151" y="477" width="2" height="5" fill="#fff"/><rect x="1156" y="486" width="1" height="33" fill="#000"/><rect x="1155" y="502" width="4" height="1" fill="#000"/><rect x="1161" y="415" width="1" height="47" fill="#000"/><rect x="1160" y="416" width="4" height="46" fill="#000"/><rect x="1166" y="451" width="1" height="36" fill="#000"/><rect x="1165" y="456" width="4" height="20" fill="#000"/><rect x="1171" y="444" width="1" height="18" fill="#000"/><rect x="1170" y="448" width="4" height="3" fill="#000"/><rect x="1171" y="449" width="2" height="1" fill="#fff"/><rect x="1176" y="424" width="1" height="24" fill="#000"/><rect x="1175" y="429" width="4" height="16" fill="#000"/><rect x="1176" y="430" width="2" height="14" fill="#fff"/><rect x="1181" y="432" width="1" height="14" fill="#000"/><rect x="1180" y="433" width="4" height="3" fill="#000"/><rect x="1181" y="434" width="2" height="1" fill="#fff"/><rect x="1185" y="433" width="1" height="13" fill="#000"/><rect x="1184" y="440" width="4" height="1" fill="#000"/><rect x="1190" y="435" width="1" height="18" fill="#000"/><rect x="1189" y="435" width="4" height="5" fill="#000"/><rect x="1190" y="436" width="2" height="3" fill="#fff"/><rect x="1195" y="408" width="1" height="18" fill="#000"/><rect x="1194" y="414" width="4" height="3" fill="#000"/><rect x="1195" y="415" width="2" height="1" fill="#fff"/><rect x="1200" y="395" width="1" height="21" fill="#000"/><rect x="1199" y="400" width="4" height="16" fill="#000"/><rect x="1200" y="401" width="2" height="14" fill="#fff"/><rect x="1205" y="378" width="1" height="19" fill="#000"/><rect x="1204" y="380" width="4" height="10" fill="#000"/><rect x="1205" y="381" width="2" height="8" fill="#fff"/><rect x="1210" y="358" width="1" height="17" fill="#000"/><rect x="1209" y="369" width="4" height="6" fill="#000"/><rect x="1210" y="370" width="2" height="4" fill="#fff"/><rect x="1215" y="360" width="1" height="12" fill="#000"/><rect x="1214" y="366" width="4" height="4" fill="#000"/><rect x="1215" y="367" width="2" height="2" fill="#fff"/><rect x="1220" y="359" width="1" height="21" fill="#000"/><rect x="1219" y="359" width="4" height="8" fill="#000"/><rect x="1225" y="340" width="1" height="19" fill="#000"/><rect x="1224" y="343" width="4" height="12" fill="#000"/><rect x="1225" y="344" width="2" height="10" fill="#fff"/><rect x="1230" y="330" width="1" height="14" fill="#000"/><rect x="1229" y="330" width="4" height="9" fill="#000"/><rect x="1230" y="331" width="2" height="7" fill="#fff"/><rect x="1234" y="328" width="1" height="17" fill="#000"/><rect x="1233" y="328" width="4" height="1" fill="#000"/><rect x="1239" y="326" width="1" height="7" fill="#000"/><rect x="1238" y="328" width="4" height="1" fill="#000"/><rect x="1244" y="307" width="1" height="55" fill="#000"/><rect x="1243" y="321" width="4" height="6" fill="#000"/><rect x="1249" y="304" width="1" height="18" fill="#000"/><rect x="1248" y="308" width="4" height="10" fill="#000"/><rect x="1249" y="309" width="2" height="8" fill="#fff"/><rect x="1254" y="273" width="1" height="26" fill="#000"/><rect x="1253" y="282" width="4" height="12" fill="#000"/><rect x="1254" y="283" width="2" height="10" fill="#fff"/><rect x="1259" y="278" width="1" height="11" fill="#000"/><rect x="1258" y="282" width="4" height="3" fill="#000"/><rect x="1259" y="283" width="2" height="1" fill="#fff"/><rect x="1264" y="257" width="1" height="23" fill="#000"/><rect x="1263" y="260" width="4" height="19" fill="#000"/><rect x="1264" y="261" width="2" height="17" fill="#fff"/><rect x="1269" y="256" width="1" height="14" fill="#000"/><rect x="1268" y="259" width="4" height="5" fill="#000"/><rect x="1269" y="260" width="2" height="3" fill="#fff"/><rect x="1274" y="248" width="1" height="18" fill="#000"/><rect x="1273" y="254" width="4" height="11" fill="#000"/><rect x="1279" y="305" width="1" height="16" fill="#000"/><rect x="1278" y="312" width="4" height="8" fill="#000"/><rect x="1279" y="313" width="2" height="6" fill="#fff"/><rect x="1283" y="300" width="1" height="12" fill="#000"/><rect x="1282" y="308" width="4" height="1" fill="#000"/><rect x="1288" y="299" width="1" height="16" fill="#000"/><rect x="1287" y="301" width="4" height="9" fill="#000"/><rect x="1288" y="302" width="2" height="7" fill="#fff"/><rect x="1293" y="305" width="1" height="17" fill="#000"/><rect x="1292" y="310" width="4" height="5" fill="#000"/><rect x="1298" y="267" width="1" height="67" fill="#000"/><rect x="1297" y="293" width="4" height="25" fill="#000"/><rect x="1303" y="299" width="1" height="16" fill="#000"/><rect x="1302" y="301" width="4" height="4" fill="#000"/><rect x="1308" y="298" width="1" height="17" fill="#000"/><rect x="1307" y="304" width="4" height="9" fill="#000"/><rect x="1313" y="299" width="1" height="18" fill="#000"/><rect x="1312" y="309" width="4" height="7" fill="#000"/><rect x="1318" y="305" width="1" height="17" fill="#000"/><rect x="1317" y="305" width="4" height="12" fill="#000"/><rect x="1323" y="312" width="1" height="9" fill="#000"/><rect x="1322" y="320" width="4" height="1" fill="#000"/><rect x="1328" y="319" width="1" height="10" fill="#000"/><rect x="1327" y="319" width="4" height="9" fill="#000"/><rect x="1328" y="320" width="2" height="7" fill="#fff"/><rect x="1333" y="315" width="1" height="17" fill="#000"/><rect x="1332" y="315" width="4" height="7" fill="#000"/><rect x="1337" y="317" width="1" height="8" fill="#000"/><rect x="1336" y="319" width="4" height="1" fill="#000"/><rect x="1342" y="304" width="1" height="16" fill="#000"/><rect x="1341" y="309" width="4" height="7" fill="#000"/><rect x="1342" y="310" width="2" height="5" fill="#fff"/><rect x="1347" y="298" width="1" height="13" fill="#000"/><rect x="1346" y="301" width="4" height="9" fill="#000"/><rect x="1347" y="302" width="2" height="7" fill="#fff"/><rect x="1352" y="294" width="1" height="8" fill="#000"/><rect x="1351" y="295" width="4" height="4" fill="#000"/><rect x="1352" y="296" width="2" height="2" fill="#fff"/><rect x="1357" y="294" width="1" height="10" fill="#000"/><rect x="1356" y="298" width="4" height="5" fill="#000"/><rect x="1362" y="276" width="1" height="22" fill="#000"/><rect x="1361" y="278" width="4" height="19" fill="#000"/><rect x="1362" y="279" width="2" height="17" fill="#fff"/><rect x="1367" y="276" width="1" height="16" fill="#000"/><rect x="1366" y="280" width="4" height="1" fill="#000"/><rect x="1372" y="295" width="1" height="17" fill="#000"/><rect x="1371" y="304" width="4" height="7" fill="#000"/><rect x="1377" y="300" width="1" height="13" fill="#000"/><rect x="1376" y="304" width="4" height="6" fill="#000"/><rect x="1377" y="305" width="2" height="4" fill="#fff"/><rect x="1382" y="308" width="1" height="10" fill="#000"/><rect x="1381" y="309" width="4" height="1" fill="#000"/><rect x="1386" y="310" width="1" height="8" fill="#000"/><rect x="1385" y="311" width="4" height="3" fill="#000"/><rect x="1386" y="312" width="2" height="1" fill="#fff"/><rect x="1391" y="318" width="1" height="10" fill="#000"/><rect x="1390" y="323" width="4" height="1" fill="#000"/><rect x="1396" y="274" width="1" height="49" fill="#000"/><rect x="1395" y="289" width="4" height="33" fill="#000"/><rect x="1396" y="290" width="2" height="31" fill="#fff"/><rect x="1401" y="288" width="1" height="27" fill="#000"/><rect x="1400" y="296" width="4" height="18" fill="#000"/><rect x="1406" y="273" width="1" height="27" fill="#000"/><rect x="1405" y="281" width="4" height="12" fill="#000"/><rect x="1406" y="282" width="2" height="10" fill="#fff"/><rect x="1411" y="274" width="1" height="11" fill="#000"/><rect x="1410" y="277" width="4" height="1" fill="#000"/><rect x="1416" y="268" width="1" height="12" fill="#000"/><rect x="1415" y="277" width="4" height="1" fill="#000"/><rect x="1421" y="266" width="1" height="12" fill="#000"/><rect x="1420" y="267" width="4" height="6" fill="#000"/><rect x="1421" y="268" width="2" height="4" fill="#fff"/><rect x="1426" y="262" width="1" height="10" fill="#000"/><rect x="1425" y="265" width="4" height="5" fill="#000"/><rect x="1431" y="270" width="1" height="12" fill="#000"/><rect x="1430" y="274" width="4" height="8" fill="#000"/><rect x="1436" y="277" width="1" height="17" fill="#000"/><rect x="1435" y="278" width="4" height="2" fill="#000"/><rect x="1440" y="269" width="1" height="14" fill="#000"/><rect x="1439" y="272" width="4" height="8" fill="#000"/><rect x="1440" y="273" width="2" height="6" fill="#fff"/><rect x="1445" y="273" width="1" height="7" fill="#000"/><rect x="1444" y="274" width="4" height="1" fill="#000"/><rect x="1450" y="255" width="1" height="23" fill="#000"/><rect x="1449" y="257" width="4" height="21" fill="#000"/><rect x="1450" y="258" width="2" height="19" fill="#fff"/><rect x="1455" y="238" width="1" height="19" fill="#000"/><rect x="1454" y="250" width="4" height="6" fill="#000"/><rect x="1455" y="251" width="2" height="4" fill="#fff"/><rect x="1460" y="191" width="1" height="44" fill="#000"/><rect x="1459" y="193" width="4" height="28" fill="#000"/><rect x="1460" y="194" width="2" height="26" fill="#fff"/><rect x="1465" y="188" width="1" height="14" fill="#000"/><rect x="1464" y="193" width="4" height="1" fill="#000"/><rect x="1470" y="192" width="1" height="18" fill="#000"/><rect x="1469" y="193" width="4" height="13" fill="#000"/><rect x="1470" y="194" width="2" height="11" fill="#fff"/><rect x="1475" y="195" width="1" height="17" fill="#000"/><rect x="1474" y="199" width="4" height="12" fill="#000"/><rect x="1475" y="200" width="2" height="10" fill="#fff"/><rect x="1480" y="184" width="1" height="16" fill="#000"/><rect x="1479" y="198" width="4" height="2" fill="#000"/><rect x="1485" y="185" width="1" height="20" fill="#000"/><rect x="1484" y="202" width="4" height="2" fill="#000"/><rect x="1489" y="177" width="1" height="24" fill="#000"/><rect x="1488" y="178" width="4" height="19" fill="#000"/><rect x="1489" y="179" width="2" height="17" fill="#fff"/><rect x="1494" y="168" width="1" height="12" fill="#000"/><rect x="1493" y="172" width="4" height="3" fill="#000"/><rect x="1494" y="173" width="2" height="1" fill="#fff"/><rect x="1499" y="169" width="1" height="10" fill="#000"/><rect x="1498" y="178" width="4" height="1" fill="#000"/><rect x="1504" y="180" width="1" height="9" fill="#000"/><rect x="1503" y="182" width="4" height="1" fill="#000"/><rect x="1509" y="168" width="1" height="12" fill="#000"/><rect x="1508" y="172" width="4" height="6" fill="#000"/><rect x="1514" y="166" width="1" height="28" fill="#000"/><rect x="1513" y="168" width="4" height="15" fill="#000"/><rect x="1519" y="180" width="1" height="10" fill="#000"/><rect x="1518" y="183" width="4" height="1" fill="#000"/><rect x="1524" y="172" width="1" height="16" fill="#000"/><rect x="1523" y="175" width="4" height="10" fill="#000"/><rect x="1529" y="175" width="1" height="13" fill="#000"/><rect x="1528" y="178" width="4" height="6" fill="#000"/><rect x="1529" y="179" width="2" height="4" fill="#fff"/><rect x="1534" y="169" width="1" height="13" fill="#000"/><rect x="1533" y="170" width="4" height="6" fill="#000"/><rect x="1534" y="171" width="2" height="4" fill="#fff"/><rect x="1538" y="165" width="1" height="32" fill="#000"/><rect x="1537" y="165" width="4" height="11" fill="#000"/><rect x="1543" y="178" width="1" height="40" fill="#000"/><rect x="1542" y="189" width="4" height="18" fill="#000"/><rect x="1548" y="178" width="1" height="20" fill="#000"/><rect x="1547" y="191" width="4" height="3" fill="#000"/><rect x="1548" y="192" width="2" height="1" fill="#fff"/><rect x="1553" y="174" width="1" height="15" fill="#000"/><rect x="1552" y="182" width="4" height="3" fill="#000"/><rect x="1553" y="183" width="2" height="1" fill="#fff"/><rect x="1558" y="173" width="1" height="7" fill="#000"/><rect x="1557" y="176" width="4" height="3" fill="#000"/><rect x="1563" y="156" width="1" height="19" fill="#000"/><rect x="1562" y="161" width="4" height="13" fill="#000"/><rect x="1563" y="162" width="2" height="11" fill="#fff"/><rect x="1568" y="158" width="1" height="12" fill="#000"/><rect x="1567" y="162" width="4" height="3" fill="#000"/><rect x="1573" y="157" width="1" height="16" fill="#000"/><rect x="1572" y="160" width="4" height="11" fill="#000"/><rect x="1578" y="163" width="1" height="9" fill="#000"/><rect x="1577" y="164" width="4" height="5" fill="#000"/><rect x="1578" y="165" width="2" height="3" fill="#fff"/><rect x="1583" y="156" width="1" height="8" fill="#000"/><rect x="1582" y="161" width="4" height="1" fill="#000"/><rect x="1588" y="157" width="1" height="8" fill="#000"/><rect x="1587" y="158" width="4" height="6" fill="#000"/><rect x="1588" y="159" width="2" height="4" fill="#fff"/><rect x="1592" y="144" width="1" height="14" fill="#000"/><rect x="1591" y="145" width="4" height="6" fill="#000"/><rect x="1592" y="146" width="2" height="4" fill="#fff"/><rect x="1597" y="128" width="1" height="10" fill="#000"/><rect x="1596" y="135" width="4" height="1" fill="#000"/><rect x="1602" y="138" width="1" height="10" fill="#000"/><rect x="1601" y="140" width="4" height="5" fill="#000"/><rect x="1607" y="136" width="1" height="14" fill="#000"/><rect x="1606" y="146" width="4" height="3" fill="#000"/><rect x="1612" y="115" width="1" height="35" fill="#000"/><rect x="1611" y="117" width="4" height="33" fill="#000"/><rect x="1612" y="118" width="2" height="31" fill="#fff"/><rect x="1617" y="96" width="1" height="30" fill="#000"/><rect x="1616" y="113" width="4" height="12" fill="#000"/><rect x="1617" y="114" width="2" height="10" fill="#fff"/><rect x="1622" y="115" width="1" height="20" fill="#000"/><rect x="1621" y="116" width="4" height="18" fill="#000"/><rect x="1627" y="121" width="1" height="32" fill="#000"/><rect x="1626" y="128" width="4" height="8" fill="#000"/><rect x="1627" y="129" width="2" height="6" fill="#fff"/><rect x="1632" y="109" width="1" height="28" fill="#000"/><rect x="1631" y="128" width="4" height="1" fill="#000"/><rect x="1637" y="128" width="1" height="22" fill="#000"/><rect x="1636" y="128" width="4" height="22" fill="#000"/><rect x="1641" y="144" width="1" height="18" fill="#000"/><rect x="1640" y="150" width="4" height="1" fill="#000"/><rect x="1646" y="147" width="1" height="35" fill="#000"/><rect x="1645" y="151" width="4" height="30" fill="#000"/><rect x="1651" y="172" width="1" height="13" fill="#000"/><rect x="1650" y="173" width="4" height="7" fill="#000"/><rect x="1656" y="166" width="1" height="18" fill="#000"/><rect x="1655" y="170" width="4" height="13" fill="#000"/><rect x="1656" y="171" width="2" height="11" fill="#fff"/><rect x="1661" y="155" width="1" height="27" fill="#000"/><rect x="1660" y="166" width="4" height="12" fill="#000"/><rect x="1666" y="169" width="1" height="9" fill="#000"/><rect x="1665" y="174" width="4" height="4" fill="#000"/><rect x="1671" y="165" width="1" height="13" fill="#000"/><rect x="1670" y="171" width="4" height="1" fill="#000"/><rect x="1676" y="160" width="1" height="18" fill="#000"/><rect x="1675" y="168" width="4" height="6" fill="#000"/><rect x="1681" y="146" width="1" height="28" fill="#000"/><rect x="1680" y="155" width="4" height="17" fill="#000"/><rect x="1681" y="156" width="2" height="15" fill="#fff"/><rect x="1686" y="145" width="1" height="13" fill="#000"/><rect x="1685" y="149" width="4" height="9" fill="#000"/><rect x="1686" y="150" width="2" height="7" fill="#fff"/><rect x="1691" y="135" width="1" height="12" fill="#000"/><rect x="1690" y="141" width="4" height="3" fill="#000"/><rect x="1691" y="142" width="2" height="1" fill="#fff"/><rect x="1695" y="136" width="1" height="11" fill="#000"/><rect x="1694" y="137" width="4" height="10" fill="#000"/><rect x="1700" y="135" width="1" height="25" fill="#000"/><rect x="1699" y="140" width="4" height="10" fill="#000"/><rect x="1705" y="138" width="1" height="11" fill="#000"/><rect x="1704" y="139" width="4" height="1" fill="#000"/><rect x="1710" y="127" width="1" height="14" fill="#000"/><rect x="1709" y="132" width="4" height="6" fill="#000"/><rect x="1710" y="133" width="2" height="4" fill="#fff"/><rect x="1715" y="128" width="1" height="13" fill="#000"/><rect x="1714" y="131" width="4" height="3" fill="#000"/><rect x="1720" y="123" width="1" height="15" fill="#000"/><rect x="1719" y="135" width="4" height="3" fill="#000"/><rect x="1725" y="128" width="1" height="20" fill="#000"/><rect x="1724" y="136" width="4" height="1" fill="#000"/><rect x="1730" y="136" width="1" height="16" fill="#000"/><rect x="1729" y="138" width="4" height="7" fill="#000"/><rect x="1735" y="125" width="1" height="20" fill="#000"/><rect x="1734" y="126" width="4" height="12" fill="#000"/><rect x="1735" y="127" width="2" height="10" fill="#fff"/><rect x="1740" y="110" width="1" height="13" fill="#000"/><rect x="1739" y="115" width="4" height="4" fill="#000"/><rect x="1740" y="116" width="2" height="2" fill="#fff"/><rect x="1744" y="66" width="1" height="35" fill="#000"/><rect x="1743" y="70" width="4" height="30" fill="#000"/><rect x="1744" y="71" width="2" height="28" fill="#fff"/><rect x="1749" y="63" width="1" height="24" fill="#000"/><rect x="1748" y="68" width="4" height="10" fill="#000"/><rect x="1749" y="69" width="2" height="8" fill="#fff"/><rect x="1754" y="59" width="1" height="21" fill="#000"/><rect x="1753" y="65" width="4" height="15" fill="#000"/><rect x="1759" y="58" width="1" height="17" fill="#000"/><rect x="1758" y="66" width="4" height="8" fill="#000"/><rect x="1759" y="67" width="2" height="6" fill="#fff"/><rect x="1764" y="64" width="1" height="33" fill="#000"/><rect x="1763" y="66" width="4" height="18" fill="#000"/><rect x="1769" y="54" width="1" height="36" fill="#000"/><rect x="1768" y="60" width="4" height="23" fill="#000"/><rect x="1769" y="61" width="2" height="21" fill="#fff"/><rect x="1774" y="49" width="1" height="18" fill="#000"/><rect x="1773" y="58" width="4" height="7" fill="#000"/><rect x="1779" y="51" width="1" height="21" fill="#000"/><rect x="1778" y="58" width="4" height="3" fill="#000"/><rect x="1779" y="59" width="2" height="1" fill="#fff"/><rect x="1784" y="55" width="1" height="43" fill="#000"/><rect x="1783" y="62" width="4" height="33" fill="#000"/><rect x="1789" y="76" width="1" height="18" fill="#000"/><rect x="1788" y="84" width="4" height="9" fill="#000"/><rect x="1789" y="85" width="2" height="7" fill="#fff"/><rect x="1793" y="72" width="1" height="30" fill="#000"/><rect x="1792" y="78" width="4" height="18" fill="#000"/><rect x="1793" y="79" width="2" height="16" fill="#fff"/><rect x="1798" y="65" width="1" height="15" fill="#000"/><rect x="1797" y="74" width="4" height="2" fill="#000"/><rect x="35" y="261" width="1820" height="1" fill="#000"/><rect x="35" y="417" width="1820" height="1" fill="#000"/><rect x="35" y="458" width="1820" height="1" fill="#000"/><rect x="35" y="473" width="1820" height="1" fill="#000"/><rect x="35" y="384" width="1820" height="1" fill="#ff0000"/><rect x="35" y="592" width="1826" height="1" fill="#000"/><rect x="1500" y="155" width="265" height="1" fill="#000"/><rect x="1446" y="213" width="191" height="1" fill="#000"/><path d="M35 277.5h14M49 278.5h14M63 279.5h14M77 280.5h14M91 281.5h14M105 282.5h14M119 283.5h14M133 284.5h14M147 285.5h14M161 286.5h14M175 287.5h14M189 288.5h14M203 289.5h14M217 290.5h14M231 291.5h14M245 292.5h13M258 293.5h14M272 294.5h14M286 295.5h14M300 296.5h14M314 297.5h14M328 298.5h14M342 299.5h14M356 300.5h14M370 301.5h14M384 302.5h14M398 303.5h14M412 304.5h14M426 305.5h14M440 306.5h14M454 307.5h14M468 308.5h14M482 309.5h14M496 310.5h14M510 311.5h14M524 312.5h14M538 313.5h14M552 314.5h14M566 315.5h14M580 316.5h14M594 317.5h14M608 318.5h14M622 319.5h14M636 320.5h14M650 321.5h14M664 322.5h14M678 323.5h14M692 324.5h13M705 325.5h14M719 326.5h14M733 327.5h14M747 328.5h14M761 329.5h14M775 330.5h14M789 331.5h14M803 332.5h14M817 333.5h14M831 334.5h14M845 335.5h14M859 336.5h14M873 337.5h14M887 338.5h14M901 339.5h14M915 340.5h1" stroke="#000" stroke-width="1" fill="none"/><path d="M35 290.5h1M36 291.5h3M39 292.5h2M41 293.5h3M44 294.5h2M46 295.5h3M49 296.5h2M51 297.5h3M54 298.5h2M56 299.5h2M58 300.5h3M61 301.5h2M63 302.5h3M66 303.5h2M68 304.5h3M71 305.5h2M73 306.5h3M76 307.5h2M78 308.5h2M80 309.5h3M83 310.5h2M85 311.5h3M88 312.5h2M90 313.5h3M93 314.5h2M95 315.5h2M97 316.5h3M100 317.5h2M102 318.5h3M105 319.5h2M107 320.5h3M110 321.5h2M112 322.5h3M115 323.5h2M117 324.5h2M119 325.5h3M122 326.5h2M124 327.5h3M127 328.5h2M129 329.5h3M132 330.5h2M134 331.5h3M137 332.5h2M139 333.5h2M141 334.5h3M144 335.5h2M146 336.5h3M149 337.5h2M151 338.5h3M154 339.5h2M156 340.5h2M158 341.5h3M161 342.5h2M163 343.5h3M166 344.5h2M168 345.5h3M171 346.5h2M173 347.5h3M176 348.5h2M178 349.5h2M180 350.5h3M183 351.5h2M185 352.5h3M188 353.5h2M190 354.5h3M193 355.5h2M195 356.5h3M198 357.5h2M200 358.5h2M202 359.5h3M205 360.5h2M207 361.5h3M210 362.5h2M212 363.5h3M215 364.5h2M217 365.5h2M219 366.5h3M222 367.5h2M224 368.5h3M227 369.5h2M229 370.5h3M232 371.5h2M234 372.5h3M237 373.5h2M239 374.5h2M241 375.5h3M244 376.5h2M246 377.5h3M249 378.5h2M251 379.5h3M254 380.5h2M256 381.5h3M259 382.5h2M261 383.5h2M263 384.5h3M266 385.5h2M268 386.5h3M271 387.5h2M273 388.5h3M276 389.5h2M278 390.5h2M280 391.5h3M283 392.5h2M285 393.5h3M288 394.5h2M290 395.5h3M293 396.5h2M295 397.5h3M298 398.5h2M300 399.5h2M302 400.5h3M305 401.5h2M307 402.5h3M310 403.5h2M312 404.5h3M315 405.5h2M317 406.5h3M320 407.5h2M322 408.5h2M324 409.5h3M327 410.5h2M329 411.5h3M332 412.5h2M334 413.5h3M337 414.5h2M339 415.5h3M342 416.5h2M344 417.5h2M346 418.5h3M349 419.5h2M351 420.5h2" stroke="#000" stroke-width="1" fill="none"/><path d="M35 350.5h2M37 349.5h3M40 348.5h2M42 347.5h3M45 346.5h2M47 345.5h3M50 344.5h2M52 343.5h2M54 342.5h3M57 341.5h2M59 340.5h3M62 339.5h2M64 338.5h3M67 337.5h2M69 336.5h2M71 335.5h3M74 334.5h2M76 333.5h3M79 332.5h2M81 331.5h3M84 330.5h2M86 329.5h3M89 328.5h2M91 327.5h2M93 326.5h3M96 325.5h2M98 324.5h1" stroke="#000" stroke-width="1" fill="none"/><path d="M190 453.5h1M191 452.5h2M193 451.5h2M195 450.5h1M196 449.5h2M198 448.5h2M200 447.5h2M202 446.5h2M204 445.5h2M206 444.5h1M207 443.5h2M209 442.5h2M211 441.5h2M213 440.5h2M215 439.5h2M217 438.5h1M218 437.5h2M220 436.5h2M222 435.5h2M224 434.5h2M226 433.5h2M228 432.5h1M229 431.5h2M231 430.5h2M233 429.5h2M235 428.5h2M237 427.5h2M239 426.5h1M240 425.5h2M242 424.5h2M244 423.5h2M246 422.5h2M248 421.5h2M250 420.5h1M251 419.5h2M253 418.5h2M255 417.5h2M257 416.5h2M259 415.5h2M261 414.5h1M262 413.5h2M264 412.5h2M266 411.5h2M268 410.5h2M270 409.5h2M272 408.5h1M273 407.5h2M275 406.5h2M277 405.5h2M279 404.5h1" stroke="#000" stroke-width="1" fill="none"/><path d="M1142 546.5h1M1143 545.5h2M1145 544.5h1M1146 543.5h1M1147 542.5h1M1148 541.5h2M1150 540.5h1M1151 539.5h1M1152 538.5h1M1153 537.5h1M1154 536.5h2M1156 535.5h1M1157 534.5h1M1158 533.5h1M1159 532.5h2M1161 531.5h1M1162 530.5h1M1163 529.5h1M1164 528.5h2M1166 527.5h1M1167 526.5h1M1168 525.5h1M1169 524.5h1M1170 523.5h2M1172 522.5h1M1173 521.5h1M1174 520.5h1M1175 519.5h2M1177 518.5h1M1178 517.5h1M1179 516.5h1M1180 515.5h2M1182 514.5h1M1183 513.5h1M1184 512.5h1M1185 511.5h1M1186 510.5h2M1188 509.5h1M1189 508.5h1M1190 507.5h1M1191 506.5h2M1193 505.5h1M1194 504.5h1M1195 503.5h1M1196 502.5h2M1198 501.5h1M1199 500.5h1M1200 499.5h1M1201 498.5h1M1202 497.5h2M1204 496.5h1M1205 495.5h1M1206 494.5h1M1207 493.5h2M1209 492.5h1M1210 491.5h1M1211 490.5h1M1212 489.5h1M1213 488.5h2M1215 487.5h1M1216 486.5h1M1217 485.5h1M1218 484.5h2M1220 483.5h1M1221 482.5h1M1222 481.5h1M1223 480.5h2M1225 479.5h1M1226 478.5h1M1227 477.5h1M1228 476.5h1M1229 475.5h2M1231 474.5h1M1232 473.5h1M1233 472.5h1M1234 471.5h2M1236 470.5h1M1237 469.5h1M1238 468.5h1M1239 467.5h2M1241 466.5h1M1242 465.5h1M1243 464.5h1M1244 463.5h1M1245 462.5h2M1247 461.5h1M1248 460.5h1M1249 459.5h1M1250 458.5h2M1252 457.5h1M1253 456.5h1M1254 455.5h1M1255 454.5h2M1257 453.5h1M1258 452.5h1M1259 451.5h1M1260 450.5h1M1261 449.5h2M1263 448.5h1M1264 447.5h1M1265 446.5h1M1266 445.5h2M1268 444.5h1M1269 443.5h1M1270 442.5h1M1271 441.5h2M1273 440.5h1M1274 439.5h1M1275 438.5h1M1276 437.5h1M1277 436.5h2M1279 435.5h1M1280 434.5h1M1281 433.5h1M1282 432.5h2M1284 431.5h1M1285 430.5h1M1286 429.5h1M1287 428.5h2M1289 427.5h1M1290 426.5h1M1291 425.5h1M1292 424.5h1M1293 423.5h2M1295 422.5h1M1296 421.5h1M1297 420.5h1M1298 419.5h2M1300 418.5h1M1301 417.5h1M1302 416.5h1M1303 415.5h2M1305 414.5h1M1306 413.5h1M1307 412.5h1M1308 411.5h1M1309 410.5h2M1311 409.5h1M1312 408.5h1M1313 407.5h1M1314 406.5h2M1316 405.5h1M1317 404.5h1M1318 403.5h1M1319 402.5h2M1321 401.5h1M1322 400.5h1M1323 399.5h1M1324 398.5h1M1325 397.5h2M1327 396.5h1M1328 395.5h1M1329 394.5h1M1330 393.5h2M1332 392.5h1M1333 391.5h1M1334 390.5h1M1335 389.5h2M1337 388.5h1M1338 387.5h1M1339 386.5h1M1340 385.5h1M1341 384.5h2M1343 383.5h1M1344 382.5h1M1345 381.5h1M1346 380.5h2M1348 379.5h1M1349 378.5h1M1350 377.5h1M1351 376.5h2M1353 375.5h1M1354 374.5h1M1355 373.5h1M1356 372.5h1M1357 371.5h2M1359 370.5h1M1360 369.5h1M1361 368.5h1M1362 367.5h2M1364 366.5h1M1365 365.5h1M1366 364.5h1M1367 363.5h2M1369 362.5h1M1370 361.5h1M1371 360.5h1M1372 359.5h1M1373 358.5h2M1375 357.5h1M1376 356.5h1M1377 355.5h1M1378 354.5h2M1380 353.5h1M1381 352.5h1M1382 351.5h1M1383 350.5h2M1385 349.5h1M1386 348.5h1M1387 347.5h1M1388 346.5h1M1389 345.5h2M1391 344.5h1M1392 343.5h1M1393 342.5h1M1394 341.5h2M1396 340.5h1M1397 339.5h1M1398 338.5h1M1399 337.5h2M1401 336.5h1M1402 335.5h1M1403 334.5h1M1404 333.5h1M1405 332.5h2M1407 331.5h1M1408 330.5h1M1409 329.5h1M1410 328.5h2M1412 327.5h1M1413 326.5h1M1414 325.5h1M1415 324.5h2M1417 323.5h1M1418 322.5h1M1419 321.5h1M1420 320.5h1M1421 319.5h2M1423 318.5h1M1424 317.5h1M1425 316.5h1M1426 315.5h2M1428 314.5h1M1429 313.5h1M1430 312.5h1M1431 311.5h2M1433 310.5h1M1434 309.5h1M1435 308.5h1M1436 307.5h1M1437 306.5h2M1439 305.5h1M1440 304.5h1M1441 303.5h1M1442 302.5h2M1444 301.5h1M1445 300.5h1M1446 299.5h1M1447 298.5h2M1449 297.5h1M1450 296.5h1M1451 295.5h1M1452 294.5h1M1453 293.5h2M1455 292.5h1M1456 291.5h1M1457 290.5h1M1458 289.5h2M1460 288.5h1M1461 287.5h1M1462 286.5h1M1463 285.5h2M1465 284.5h1M1466 283.5h1M1467 282.5h1M1468 281.5h1M1469 280.5h2M1471 279.5h1M1472 278.5h1M1473 277.5h1M1474 276.5h2M1476 275.5h1M1477 274.5h1M1478 273.5h1M1479 272.5h2M1481 271.5h1M1482 270.5h1M1483 269.5h1M1484 268.5h1M1485 267.5h2M1487 266.5h1M1488 265.5h1M1489 264.5h1M1490 263.5h2M1492 262.5h1M1493 261.5h1M1494 260.5h1M1495 259.5h2M1497 258.5h1M1498 257.5h1M1499 256.5h1M1500 255.5h1M1501 254.5h2M1503 253.5h1M1504 252.5h1M1505 251.5h1M1506 250.5h2M1508 249.5h1M1509 248.5h1M1510 247.5h1M1511 246.5h1M1512 245.5h2M1514 244.5h1M1515 243.5h1M1516 242.5h1M1517 241.5h2M1519 240.5h1M1520 239.5h1M1521 238.5h1M1522 237.5h2M1524 236.5h1M1525 235.5h1M1526 234.5h1M1527 233.5h1M1528 232.5h2M1530 231.5h1M1531 230.5h1M1532 229.5h1M1533 228.5h2M1535 227.5h1M1536 226.5h1M1537 225.5h1M1538 224.5h2M1540 223.5h1M1541 222.5h1M1542 221.5h1M1543 220.5h1M1544 219.5h2M1546 218.5h1M1547 217.5h1M1548 216.5h1M1549 215.5h2M1551 214.5h1M1552 213.5h1M1553 212.5h1M1554 211.5h2M1556 210.5h1M1557 209.5h1M1558 208.5h1M1559 207.5h1M1560 206.5h2M1562 205.5h1M1563 204.5h1M1564 203.5h1M1565 202.5h2M1567 201.5h1M1568 200.5h1M1569 199.5h1M1570 198.5h2M1572 197.5h1M1573 196.5h1M1574 195.5h1M1575 194.5h1M1576 193.5h2M1578 192.5h1M1579 191.5h1M1580 190.5h1M1581 189.5h2M1583 188.5h1M1584 187.5h1M1585 186.5h1M1586 185.5h2M1588 184.5h1M1589 183.5h1M1590 182.5h1M1591 181.5h1M1592 180.5h2M1594 179.5h1M1595 178.5h1M1596 177.5h1M1597 176.5h2M1599 175.5h1M1600 174.5h1M1601 173.5h1M1602 172.5h2M1604 171.5h1M1605 170.5h1M1606 169.5h1M1607 168.5h1M1608 167.5h2M1610 166.5h1M1611 165.5h1M1612 164.5h1M1613 163.5h2M1615 162.5h1M1616 161.5h1M1617 160.5h1M1618 159.5h2M1620 158.5h1M1621 157.5h1M1622 156.5h1M1623 155.5h1M1624 154.5h2M1626 153.5h1M1627 152.5h1M1628 151.5h1M1629 150.5h2M1631 149.5h1M1632 148.5h1M1633 147.5h1M1634 146.5h2M1636 145.5h1M1637 144.5h1M1638 143.5h1M1639 142.5h1M1640 141.5h2M1642 140.5h1M1643 139.5h1M1644 138.5h1M1645 137.5h2M1647 136.5h1M1648 135.5h1M1649 134.5h1M1650 133.5h2M1652 132.5h1M1653 131.5h1M1654 130.5h1M1655 129.5h1M1656 128.5h2M1658 127.5h1M1659 126.5h1M1660 125.5h1M1661 124.5h2M1663 123.5h1M1664 122.5h1M1665 121.5h1M1666 120.5h2M1668 119.5h1M1669 118.5h1M1670 117.5h1M1671 116.5h1M1672 115.5h2M1674 114.5h1M1675 113.5h1M1676 112.5h1M1677 111.5h2M1679 110.5h1M1680 109.5h1M1681 108.5h1" stroke="#000" stroke-width="1" fill="none"/><path d="M1270 247.5h3M1273 248.5h3M1276 249.5h4M1280 250.5h3M1283 251.5h4M1287 252.5h4M1291 253.5h3M1294 254.5h4M1298 255.5h3M1301 256.5h4M1305 257.5h3M1308 258.5h4M1312 259.5h3M1315 260.5h4M1319 261.5h3M1322 262.5h4M1326 263.5h4M1330 264.5h3M1333 265.5h4M1337 266.5h3M1340 267.5h4M1344 268.5h3M1347 269.5h4M1351 270.5h3M1354 271.5h4M1358 272.5h3M1361 273.5h4M1365 274.5h4M1369 275.5h3M1372 276.5h4M1376 277.5h3M1379 278.5h4M1383 279.5h3M1386 280.5h4M1390 281.5h3M1393 282.5h4M1397 283.5h3M1400 284.5h4M1404 285.5h4M1408 286.5h3M1411 287.5h4M1415 288.5h3M1418 289.5h4M1422 290.5h3M1425 291.5h2" stroke="#000" stroke-width="1" fill="none"/><path d="M35 292.5h7M42 293.5h7M49 294.5h8M57 295.5h7M64 296.5h7M71 297.5h7M78 298.5h7M85 299.5h7M92 300.5h8M100 301.5h7M107 302.5h7M114 303.5h7M121 304.5h7M128 305.5h7M135 306.5h8M143 307.5h7M150 308.5h7M157 309.5h7M164 310.5h7M171 311.5h7M178 312.5h8M186 313.5h7M193 314.5h7M200 315.5h7M207 316.5h7M214 317.5h8M222 318.5h7M229 319.5h7M236 320.5h7M243 321.5h7M250 322.5h7M257 323.5h8M265 324.5h7M272 325.5h7M279 326.5h7M286 327.5h7M293 328.5h7M300 329.5h8M308 330.5h7M315 331.5h7M322 332.5h7M329 333.5h7M336 334.5h7M343 335.5h8M351 336.5h7M358 337.5h7M365 338.5h7M372 339.5h7M379 340.5h8M387 341.5h7M394 342.5h7M401 343.5h7M408 344.5h7M415 345.5h7M422 346.5h8M430 347.5h7M437 348.5h7M444 349.5h7M451 350.5h7M458 351.5h7M465 352.5h8M473 353.5h7M480 354.5h7M487 355.5h7M494 356.5h7M501 357.5h7M508 358.5h8M516 359.5h7M523 360.5h7M530 361.5h7M537 362.5h7M544 363.5h8M552 364.5h7M559 365.5h7M566 366.5h7M573 367.5h7M580 368.5h7M587 369.5h8M595 370.5h7M602 371.5h7M609 372.5h7M616 373.5h7M623 374.5h7M630 375.5h8M638 376.5h7M645 377.5h7M652 378.5h7M659 379.5h7M666 380.5h7M673 381.5h8M681 382.5h7M688 383.5h7M695 384.5h7M702 385.5h7M709 386.5h8M717 387.5h7M724 388.5h7M731 389.5h7M738 390.5h7M745 391.5h7M752 392.5h8M760 393.5h7M767 394.5h7M774 395.5h7M781 396.5h7M788 397.5h7M795 398.5h8M803 399.5h7M810 400.5h7M817 401.5h7M824 402.5h7M831 403.5h7M838 404.5h8M846 405.5h7M853 406.5h7M860 407.5h7M867 408.5h7M874 409.5h8M882 410.5h7M889 411.5h7M896 412.5h7M903 413.5h7M910 414.5h7M917 415.5h8M925 416.5h7M932 417.5h7M939 418.5h7M946 419.5h7M953 420.5h7M960 421.5h8M968 422.5h7M975 423.5h7M982 424.5h7M989 425.5h7M996 426.5h7M1003 427.5h8M1011 428.5h7M1018 429.5h7M1025 430.5h7M1032 431.5h7M1039 432.5h8M1047 433.5h7M1054 434.5h7M1061 435.5h7M1068 436.5h7M1075 437.5h7M1082 438.5h8M1090 439.5h7M1097 440.5h7M1104 441.5h7M1111 442.5h7M1118 443.5h7M1125 444.5h8M1133 445.5h7M1140 446.5h7M1147 447.5h7M1154 448.5h7M1161 449.5h7M1168 450.5h8M1176 451.5h7M1183 452.5h7M1190 453.5h7M1197 454.5h7M1204 455.5h8M1212 456.5h7M1219 457.5h7M1226 458.5h7M1233 459.5h7M1240 460.5h7M1247 461.5h8M1255 462.5h7M1262 463.5h7M1269 464.5h7M1276 465.5h7M1283 466.5h7M1290 467.5h8M1298 468.5h7M1305 469.5h7M1312 470.5h7M1319 471.5h7M1326 472.5h7M1333 473.5h8M1341 474.5h7M1348 475.5h7M1355 476.5h7M1362 477.5h7M1369 478.5h8M1377 479.5h7M1384 480.5h7M1391 481.5h7M1398 482.5h7M1405 483.5h7M1412 484.5h8M1420 485.5h7M1427 486.5h7M1434 487.5h7M1441 488.5h7M1448 489.5h7M1455 490.5h8M1463 491.5h7M1470 492.5h7M1477 493.5h7M1484 494.5h7M1491 495.5h7M1498 496.5h8M1506 497.5h7M1513 498.5h7M1520 499.5h7M1527 500.5h7M1534 501.5h8M1542 502.5h7M1549 503.5h7M1556 504.5h7M1563 505.5h7M1570 506.5h7M1577 507.5h8M1585 508.5h7M1592 509.5h7M1599 510.5h7M1606 511.5h7M1613 512.5h7M1620 513.5h8M1628 514.5h7M1635 515.5h7M1642 516.5h7M1649 517.5h7M1656 518.5h7M1663 519.5h8M1671 520.5h7M1678 521.5h7M1685 522.5h7M1692 523.5h7M1699 524.5h8M1707 525.5h7M1714 526.5h7M1721 527.5h7M1728 528.5h7M1735 529.5h7M1742 530.5h8M1750 531.5h7M1757 532.5h7M1764 533.5h7M1771 534.5h7M1778 535.5h7M1785 536.5h8M1793 537.5h7M1800 538.5h7M1807 539.5h7M1814 540.5h7M1821 541.5h7M1828 542.5h8M1836 543.5h7M1843 544.5h7M1850 545.5h6" stroke="#0000ff" stroke-width="1" fill="none"/><path d="M319 510.5h4M323 509.5h4M327 508.5h5M332 507.5h4M336 506.5h5M341 505.5h5M346 504.5h4M350 503.5h5M355 502.5h4M359 501.5h5M364 500.5h4M368 499.5h5M373 498.5h4M377 497.5h5M382 496.5h4M386 495.5h5M391 494.5h4M395 493.5h5M400 492.5h4M404 491.5h5M409 490.5h5M414 489.5h4M418 488.5h5M423 487.5h4M427 486.5h5M432 485.5h4M436 484.5h5M441 483.5h4M445 482.5h5M450 481.5h4M454 480.5h5M459 479.5h4M463 478.5h5M468 477.5h4M472 476.5h5M477 475.5h5M482 474.5h4M486 473.5h5M491 472.5h4M495 471.5h5M500 470.5h4M504 469.5h5M509 468.5h4M513 467.5h5M518 466.5h4M522 465.5h5M527 464.5h4M531 463.5h5M536 462.5h4M540 461.5h5M545 460.5h5M550 459.5h4M554 458.5h5M559 457.5h4M563 456.5h5M568 455.5h4M572 454.5h5M577 453.5h4M581 452.5h5M586 451.5h4M590 450.5h5M595 449.5h4M599 448.5h5M604 447.5h5M609 446.5h4M613 445.5h5M618 444.5h4M622 443.5h5M627 442.5h4M631 441.5h5M636 440.5h4M640 439.5h5M645 438.5h4M649 437.5h5M654 436.5h4M658 435.5h5M663 434.5h4M667 433.5h5M672 432.5h5M677 431.5h4M681 430.5h5M686 429.5h4M690 428.5h5M695 427.5h4M699 426.5h5M704 425.5h4M708 424.5h5M713 423.5h4M717 422.5h5M722 421.5h4M726 420.5h5M731 419.5h4M735 418.5h5M740 417.5h5M745 416.5h4M749 415.5h5M754 414.5h4M758 413.5h5M763 412.5h4M767 411.5h5M772 410.5h4M776 409.5h5M781 408.5h4M785 407.5h5M790 406.5h4M794 405.5h5M799 404.5h4M803 403.5h5M808 402.5h5M813 401.5h4M817 400.5h5M822 399.5h4M826 398.5h5M831 397.5h4M835 396.5h5M840 395.5h4M844 394.5h5M849 393.5h4M853 392.5h5M858 391.5h4M862 390.5h5M867 389.5h5M872 388.5h4M876 387.5h5M881 386.5h4M885 385.5h5M890 384.5h4M894 383.5h5M899 382.5h4M903 381.5h5M908 380.5h4M912 379.5h5M917 378.5h4M921 377.5h5M926 376.5h4M930 375.5h5M935 374.5h5M940 373.5h4M944 372.5h5M949 371.5h4M953 370.5h5M958 369.5h4M962 368.5h5M967 367.5h4M971 366.5h5M976 365.5h4M980 364.5h5M985 363.5h4M989 362.5h5M994 361.5h4M998 360.5h5M1003 359.5h5M1008 358.5h4M1012 357.5h5M1017 356.5h4M1021 355.5h5M1026 354.5h4M1030 353.5h5M1035 352.5h4M1039 351.5h5M1044 350.5h4M1048 349.5h5M1053 348.5h4M1057 347.5h5M1062 346.5h5M1067 345.5h4M1071 344.5h5M1076 343.5h4M1080 342.5h5M1085 341.5h4M1089 340.5h5M1094 339.5h4M1098 338.5h5M1103 337.5h4M1107 336.5h5M1112 335.5h4M1116 334.5h5M1121 333.5h4M1125 332.5h5M1130 331.5h5M1135 330.5h4M1139 329.5h5M1144 328.5h4M1148 327.5h5M1153 326.5h4M1157 325.5h5M1162 324.5h4M1166 323.5h5M1171 322.5h4M1175 321.5h5M1180 320.5h4M1184 319.5h5M1189 318.5h4M1193 317.5h5M1198 316.5h5M1203 315.5h4M1207 314.5h5M1212 313.5h4M1216 312.5h5M1221 311.5h4M1225 310.5h5M1230 309.5h4M1234 308.5h5M1239 307.5h4M1243 306.5h5M1248 305.5h4M1252 304.5h5M1257 303.5h4M1261 302.5h5M1266 301.5h4" stroke="#008000" stroke-width="1" fill="none"/><path d="M35 526.5h20M55 525.5h30M85 524.5h29M114 523.5h29M143 522.5h29M172 521.5h29M201 520.5h29M230 519.5h30M260 518.5h29M289 517.5h29M318 516.5h29M347 515.5h29M376 514.5h29M405 513.5h30M435 512.5h29M464 511.5h29M493 510.5h29M522 509.5h29M551 508.5h29M580 507.5h30M610 506.5h29M639 505.5h29M668 504.5h29M697 503.5h29M726 502.5h29M755 501.5h30M785 500.5h29M814 499.5h29M843 498.5h29M872 497.5h29M901 496.5h29M930 495.5h30M960 494.5h29M989 493.5h29M1018 492.5h29M1047 491.5h29M1076 490.5h29M1105 489.5h30M1135 488.5h29M1164 487.5h29M1193 486.5h29M1222 485.5h29M1251 484.5h29M1280 483.5h30M1310 482.5h29M1339 481.5h29M1368 480.5h29M1397 479.5h29M1426 478.5h29M1455 477.5h30M1485 476.5h29M1514 475.5h29M1543 474.5h29M1572 473.5h29M1601 472.5h29M1630 471.5h30M1660 470.5h29M1689 469.5h29M1718 468.5h29M1747 467.5h29M1776 466.5h29M1805 465.5h30M1835 464.5h21" stroke="#008000" stroke-width="1" fill="none"/><path d="M35 539.5h3M44 538.5h6M50 537.5h11M61 536.5h1M68 536.5h3M71 535.5h10M81 534.5h5M92 533.5h10M102 532.5h8M116 531.5h6M122 530.5h11M133 529.5h1M140 529.5h3M143 528.5h10M153 527.5h5M164 526.5h10M174 525.5h8M188 524.5h6M194 523.5h10M204 522.5h2M212 522.5h3M215 521.5h10M225 520.5h5M236 519.5h9M245 518.5h9M260 517.5h6M266 516.5h10M276 515.5h2M284 515.5h3M287 514.5h10M297 513.5h5M308 512.5h9M317 511.5h9M332 510.5h6M338 509.5h10M348 508.5h2M356 508.5h2M358 507.5h11M369 506.5h5M380 505.5h9M389 504.5h9M404 503.5h6M410 502.5h10M420 501.5h2M428 501.5h2M430 500.5h11M441 499.5h5M452 498.5h9M461 497.5h9M476 496.5h6M482 495.5h10M492 494.5h2M500 494.5h2M502 493.5h10M512 492.5h6M524 491.5h9M533 490.5h9M548 489.5h5M553 488.5h11M564 487.5h2M572 487.5h2M574 486.5h10M584 485.5h6M596 484.5h9M605 483.5h9M620 482.5h5M625 481.5h11M636 480.5h2M644 480.5h2M646 479.5h10M656 478.5h6M668 477.5h9M677 476.5h9M692 475.5h5M697 474.5h10M707 473.5h3M716 473.5h2M718 472.5h10M728 471.5h6M740 470.5h9M749 469.5h9M764 468.5h5M769 467.5h10M779 466.5h3M788 466.5h2M790 465.5h10M800 464.5h6M812 463.5h8M820 462.5h10M836 461.5h5M841 460.5h10M851 459.5h3M860 459.5h1M861 458.5h11M872 457.5h6M884 456.5h8M892 455.5h10M908 454.5h5M913 453.5h10M923 452.5h3M932 452.5h1M933 451.5h11M944 450.5h6M956 449.5h8M964 448.5h10M980 447.5h5M985 446.5h10M995 445.5h3M1004 445.5h1M1005 444.5h10M1015 443.5h7M1028 442.5h8M1036 441.5h10M1052 440.5h5M1057 439.5h10M1067 438.5h3M1076 438.5h1M1077 437.5h10M1087 436.5h7M1100 435.5h8M1108 434.5h10M1124 433.5h4M1128 432.5h11M1139 431.5h3M1148 431.5h1M1149 430.5h10M1159 429.5h7M1172 428.5h8M1180 427.5h10" stroke="#0000ff" stroke-width="1" fill="none"/><path d="M1539 220.5h3M1546 218.5h3M1553 216.5h3M1560 214.5h3M1567 212.5h3M1574 210.5h2M1576 209.5h1M1581 208.5h2M1583 207.5h1M1588 206.5h2M1590 205.5h1M1595 204.5h2M1597 203.5h1M1602 202.5h2M1604 201.5h1M1609 200.5h2M1611 199.5h1M1616 198.5h2M1618 197.5h1M1623 196.5h2M1625 195.5h1M1630 194.5h2M1632 193.5h1M1637 192.5h1M1638 191.5h2M1644 190.5h1M1645 189.5h2M1651 188.5h1M1652 187.5h2M1658 186.5h1M1659 185.5h2M1665 184.5h1M1666 183.5h2M1672 182.5h1M1673 181.5h2M1679 180.5h1M1680 179.5h2M1686 178.5h1M1687 177.5h2M1693 176.5h1M1694 175.5h2M1700 174.5h1M1701 173.5h2M1707 171.5h3M1714 169.5h3M1721 167.5h3M1728 165.5h3M1735 163.5h3M1742 161.5h3M1749 159.5h3M1756 157.5h3M1763 155.5h3" stroke="#0000ff" stroke-width="1" fill="none"/><path d="M103 386.4h5v-2.2l3.6 3.2-3.6 3.2v-2.2h-5z" fill="#008000" shape-rendering="geometricPrecision"/><path d="M145 391.5h-4.5v-2.5l-3.5 3 3.5 3v-2.5h4.5z" fill="#ff0000" shape-rendering="geometricPrecision"/><rect x="38" y="803" width="1" height="77" fill="#0000ff"/><rect x="43" y="834" width="1" height="46" fill="#0000ff"/><rect x="48" y="833" width="1" height="47" fill="#0000ff"/><rect x="53" y="833" width="1" height="47" fill="#0000ff"/><rect x="58" y="848" width="1" height="32" fill="#0000ff"/><rect x="62" y="855" width="1" height="25" fill="#0000ff"/><rect x="67" y="858" width="1" height="22" fill="#0000ff"/><rect x="72" y="863" width="1" height="17" fill="#0000ff"/><rect x="77" y="859" width="1" height="21" fill="#0000ff"/><rect x="82" y="852" width="1" height="28" fill="#0000ff"/><rect x="87" y="789" width="1" height="91" fill="#0000ff"/><rect x="92" y="845" width="1" height="35" fill="#0000ff"/><rect x="97" y="835" width="1" height="45" fill="#0000ff"/><rect x="102" y="846" width="1" height="34" fill="#0000ff"/><rect x="107" y="858" width="1" height="22" fill="#0000ff"/><rect x="111" y="848" width="1" height="32" fill="#0000ff"/><rect x="116" y="857" width="1" height="23" fill="#0000ff"/><rect x="121" y="855" width="1" height="25" fill="#0000ff"/><rect x="126" y="847" width="1" height="33" fill="#0000ff"/><rect x="131" y="856" width="1" height="24" fill="#0000ff"/><rect x="136" y="847" width="1" height="33" fill="#0000ff"/><rect x="141" y="836" width="1" height="44" fill="#0000ff"/><rect x="146" y="851" width="1" height="29" fill="#0000ff"/><rect x="151" y="852" width="1" height="28" fill="#0000ff"/><rect x="156" y="851" width="1" height="29" fill="#0000ff"/><rect x="160" y="855" width="1" height="25" fill="#0000ff"/><rect x="165" y="801" width="1" height="79" fill="#0000ff"/><rect x="170" y="856" width="1" height="24" fill="#0000ff"/><rect x="175" y="862" width="1" height="18" fill="#0000ff"/><rect x="180" y="855" width="1" height="25" fill="#0000ff"/><rect x="185" y="862" width="1" height="18" fill="#0000ff"/><rect x="190" y="844" width="1" height="36" fill="#0000ff"/><rect x="195" y="856" width="1" height="24" fill="#0000ff"/><rect x="200" y="855" width="1" height="25" fill="#0000ff"/><rect x="205" y="859" width="1" height="21" fill="#0000ff"/><rect x="210" y="866" width="1" height="14" fill="#0000ff"/><rect x="214" y="866" width="1" height="14" fill="#0000ff"/><rect x="219" y="859" width="1" height="21" fill="#0000ff"/><rect x="224" y="854" width="1" height="26" fill="#0000ff"/><rect x="229" y="847" width="1" height="33" fill="#0000ff"/><rect x="234" y="856" width="1" height="24" fill="#0000ff"/><rect x="239" y="858" width="1" height="22" fill="#0000ff"/><rect x="244" y="862" width="1" height="18" fill="#0000ff"/><rect x="249" y="853" width="1" height="27" fill="#0000ff"/><rect x="254" y="851" width="1" height="29" fill="#0000ff"/><rect x="259" y="860" width="1" height="20" fill="#0000ff"/><rect x="263" y="856" width="1" height="24" fill="#0000ff"/><rect x="268" y="853" width="1" height="27" fill="#0000ff"/><rect x="273" y="855" width="1" height="25" fill="#0000ff"/><rect x="278" y="863" width="1" height="17" fill="#0000ff"/><rect x="283" y="854" width="1" height="26" fill="#0000ff"/><rect x="288" y="851" width="1" height="29" fill="#0000ff"/><rect x="293" y="862" width="1" height="18" fill="#0000ff"/><rect x="298" y="863" width="1" height="17" fill="#0000ff"/><rect x="303" y="862" width="1" height="18" fill="#0000ff"/><rect x="308" y="841" width="1" height="39" fill="#0000ff"/><rect x="313" y="802" width="1" height="78" fill="#0000ff"/><rect x="317" y="817" width="1" height="63" fill="#0000ff"/><rect x="322" y="846" width="1" height="34" fill="#0000ff"/><rect x="327" y="851" width="1" height="29" fill="#0000ff"/><rect x="332" y="857" width="1" height="23" fill="#0000ff"/><rect x="337" y="854" width="1" height="26" fill="#0000ff"/><rect x="342" y="854" width="1" height="26" fill="#0000ff"/><rect x="347" y="858" width="1" height="22" fill="#0000ff"/><rect x="352" y="853" width="1" height="27" fill="#0000ff"/><rect x="357" y="849" width="1" height="31" fill="#0000ff"/><rect x="362" y="862" width="1" height="18" fill="#0000ff"/><rect x="366" y="860" width="1" height="20" fill="#0000ff"/><rect x="371" y="869" width="1" height="11" fill="#0000ff"/><rect x="376" y="867" width="1" height="13" fill="#0000ff"/><rect x="381" y="863" width="1" height="17" fill="#0000ff"/><rect x="386" y="858" width="1" height="22" fill="#0000ff"/><rect x="391" y="863" width="1" height="17" fill="#0000ff"/><rect x="396" y="864" width="1" height="16" fill="#0000ff"/><rect x="401" y="866" width="1" height="14" fill="#0000ff"/><rect x="406" y="849" width="1" height="31" fill="#0000ff"/><rect x="411" y="847" width="1" height="33" fill="#0000ff"/><rect x="416" y="856" width="1" height="24" fill="#0000ff"/><rect x="420" y="859" width="1" height="21" fill="#0000ff"/><rect x="425" y="863" width="1" height="17" fill="#0000ff"/><rect x="430" y="858" width="1" height="22" fill="#0000ff"/><rect x="435" y="862" width="1" height="18" fill="#0000ff"/><rect x="440" y="860" width="1" height="20" fill="#0000ff"/><rect x="445" y="866" width="1" height="14" fill="#0000ff"/><rect x="450" y="868" width="1" height="12" fill="#0000ff"/><rect x="455" y="854" width="1" height="26" fill="#0000ff"/><rect x="460" y="862" width="1" height="18" fill="#0000ff"/><rect x="465" y="858" width="1" height="22" fill="#0000ff"/><rect x="469" y="861" width="1" height="19" fill="#0000ff"/><rect x="474" y="847" width="1" height="33" fill="#0000ff"/><rect x="479" y="835" width="1" height="45" fill="#0000ff"/><rect x="484" y="855" width="1" height="25" fill="#0000ff"/><rect x="489" y="856" width="1" height="24" fill="#0000ff"/><rect x="494" y="862" width="1" height="18" fill="#0000ff"/><rect x="499" y="823" width="1" height="57" fill="#0000ff"/><rect x="504" y="846" width="1" height="34" fill="#0000ff"/><rect x="509" y="846" width="1" height="34" fill="#0000ff"/><rect x="514" y="846" width="1" height="34" fill="#0000ff"/><rect x="518" y="844" width="1" height="36" fill="#0000ff"/><rect x="523" y="853" width="1" height="27" fill="#0000ff"/><rect x="528" y="849" width="1" height="31" fill="#0000ff"/><rect x="533" y="849" width="1" height="31" fill="#0000ff"/><rect x="538" y="854" width="1" height="26" fill="#0000ff"/><rect x="543" y="849" width="1" height="31" fill="#0000ff"/><rect x="548" y="852" width="1" height="28" fill="#0000ff"/><rect x="553" y="858" width="1" height="22" fill="#0000ff"/><rect x="558" y="856" width="1" height="24" fill="#0000ff"/><rect x="563" y="858" width="1" height="22" fill="#0000ff"/><rect x="568" y="861" width="1" height="19" fill="#0000ff"/><rect x="572" y="816" width="1" height="64" fill="#0000ff"/><rect x="577" y="848" width="1" height="32" fill="#0000ff"/><rect x="582" y="804" width="1" height="76" fill="#0000ff"/><rect x="587" y="849" width="1" height="31" fill="#0000ff"/><rect x="592" y="856" width="1" height="24" fill="#0000ff"/><rect x="597" y="862" width="1" height="18" fill="#0000ff"/><rect x="602" y="863" width="1" height="17" fill="#0000ff"/><rect x="607" y="863" width="1" height="17" fill="#0000ff"/><rect x="612" y="859" width="1" height="21" fill="#0000ff"/><rect x="617" y="849" width="1" height="31" fill="#0000ff"/><rect x="621" y="851" width="1" height="29" fill="#0000ff"/><rect x="626" y="859" width="1" height="21" fill="#0000ff"/><rect x="631" y="857" width="1" height="23" fill="#0000ff"/><rect x="636" y="844" width="1" height="36" fill="#0000ff"/><rect x="641" y="836" width="1" height="44" fill="#0000ff"/><rect x="646" y="802" width="1" height="78" fill="#0000ff"/><rect x="651" y="731" width="1" height="149" fill="#0000ff"/><rect x="656" y="817" width="1" height="63" fill="#0000ff"/><rect x="661" y="836" width="1" height="44" fill="#0000ff"/><rect x="666" y="847" width="1" height="33" fill="#0000ff"/><rect x="671" y="842" width="1" height="38" fill="#0000ff"/><rect x="675" y="842" width="1" height="38" fill="#0000ff"/><rect x="680" y="844" width="1" height="36" fill="#0000ff"/><rect x="685" y="798" width="1" height="82" fill="#0000ff"/><rect x="690" y="839" width="1" height="41" fill="#0000ff"/><rect x="695" y="849" width="1" height="31" fill="#0000ff"/><rect x="700" y="851" width="1" height="29" fill="#0000ff"/><rect x="705" y="823" width="1" height="57" fill="#0000ff"/><rect x="710" y="817" width="1" height="63" fill="#0000ff"/><rect x="715" y="821" width="1" height="59" fill="#0000ff"/><rect x="720" y="852" width="1" height="28" fill="#0000ff"/><rect x="724" y="834" width="1" height="46" fill="#0000ff"/><rect x="729" y="832" width="1" height="48" fill="#0000ff"/><rect x="734" y="806" width="1" height="74" fill="#0000ff"/><rect x="739" y="840" width="1" height="40" fill="#0000ff"/><rect x="744" y="827" width="1" height="53" fill="#0000ff"/><rect x="749" y="844" width="1" height="36" fill="#0000ff"/><rect x="754" y="848" width="1" height="32" fill="#0000ff"/><rect x="759" y="842" width="1" height="38" fill="#0000ff"/><rect x="764" y="825" width="1" height="55" fill="#0000ff"/><rect x="769" y="851" width="1" height="29" fill="#0000ff"/><rect x="773" y="834" width="1" height="46" fill="#0000ff"/><rect x="778" y="849" width="1" height="31" fill="#0000ff"/><rect x="783" y="851" width="1" height="29" fill="#0000ff"/><rect x="788" y="801" width="1" height="79" fill="#0000ff"/><rect x="793" y="826" width="1" height="54" fill="#0000ff"/><rect x="798" y="819" width="1" height="61" fill="#0000ff"/><rect x="803" y="857" width="1" height="23" fill="#0000ff"/><rect x="808" y="852" width="1" height="28" fill="#0000ff"/><rect x="813" y="860" width="1" height="20" fill="#0000ff"/><rect x="818" y="859" width="1" height="21" fill="#0000ff"/><rect x="823" y="846" width="1" height="34" fill="#0000ff"/><rect x="827" y="858" width="1" height="22" fill="#0000ff"/><rect x="832" y="856" width="1" height="24" fill="#0000ff"/><rect x="837" y="839" width="1" height="41" fill="#0000ff"/><rect x="842" y="845" width="1" height="35" fill="#0000ff"/><rect x="847" y="838" width="1" height="42" fill="#0000ff"/><rect x="852" y="847" width="1" height="33" fill="#0000ff"/><rect x="857" y="843" width="1" height="37" fill="#0000ff"/><rect x="862" y="820" width="1" height="60" fill="#0000ff"/><rect x="867" y="832" width="1" height="48" fill="#0000ff"/><rect x="872" y="797" width="1" height="83" fill="#0000ff"/><rect x="876" y="829" width="1" height="51" fill="#0000ff"/><rect x="881" y="847" width="1" height="33" fill="#0000ff"/><rect x="886" y="851" width="1" height="29" fill="#0000ff"/><rect x="891" y="854" width="1" height="26" fill="#0000ff"/><rect x="896" y="847" width="1" height="33" fill="#0000ff"/><rect x="901" y="853" width="1" height="27" fill="#0000ff"/><rect x="906" y="836" width="1" height="44" fill="#0000ff"/><rect x="911" y="841" width="1" height="39" fill="#0000ff"/><rect x="916" y="854" width="1" height="26" fill="#0000ff"/><rect x="921" y="856" width="1" height="24" fill="#0000ff"/><rect x="926" y="832" width="1" height="48" fill="#0000ff"/><rect x="930" y="846" width="1" height="34" fill="#0000ff"/><rect x="935" y="856" width="1" height="24" fill="#0000ff"/><rect x="940" y="837" width="1" height="43" fill="#0000ff"/><rect x="945" y="853" width="1" height="27" fill="#0000ff"/><rect x="950" y="838" width="1" height="42" fill="#0000ff"/><rect x="955" y="796" width="1" height="84" fill="#0000ff"/><rect x="960" y="803" width="1" height="77" fill="#0000ff"/><rect x="965" y="843" width="1" height="37" fill="#0000ff"/><rect x="970" y="861" width="1" height="19" fill="#0000ff"/><rect x="975" y="859" width="1" height="21" fill="#0000ff"/><rect x="979" y="849" width="1" height="31" fill="#0000ff"/><rect x="984" y="837" width="1" height="43" fill="#0000ff"/><rect x="989" y="847" width="1" height="33" fill="#0000ff"/><rect x="994" y="851" width="1" height="29" fill="#0000ff"/><rect x="999" y="852" width="1" height="28" fill="#0000ff"/><rect x="1004" y="855" width="1" height="25" fill="#0000ff"/><rect x="1009" y="851" width="1" height="29" fill="#0000ff"/><rect x="1014" y="826" width="1" height="54" fill="#0000ff"/><rect x="1019" y="849" width="1" height="31" fill="#0000ff"/><rect x="1024" y="845" width="1" height="35" fill="#0000ff"/><rect x="1028" y="821" width="1" height="59" fill="#0000ff"/><rect x="1033" y="837" width="1" height="43" fill="#0000ff"/><rect x="1038" y="758" width="1" height="122" fill="#0000ff"/><rect x="1043" y="807" width="1" height="73" fill="#0000ff"/><rect x="1048" y="802" width="1" height="78" fill="#0000ff"/><rect x="1053" y="836" width="1" height="44" fill="#0000ff"/><rect x="1058" y="847" width="1" height="33" fill="#0000ff"/><rect x="1063" y="856" width="1" height="24" fill="#0000ff"/><rect x="1068" y="834" width="1" height="46" fill="#0000ff"/><rect x="1073" y="844" width="1" height="36" fill="#0000ff"/><rect x="1078" y="817" width="1" height="63" fill="#0000ff"/><rect x="1082" y="827" width="1" height="53" fill="#0000ff"/><rect x="1087" y="823" width="1" height="57" fill="#0000ff"/><rect x="1092" y="807" width="1" height="73" fill="#0000ff"/><rect x="1097" y="848" width="1" height="32" fill="#0000ff"/><rect x="1102" y="821" width="1" height="59" fill="#0000ff"/><rect x="1107" y="845" width="1" height="35" fill="#0000ff"/><rect x="1112" y="858" width="1" height="22" fill="#0000ff"/><rect x="1117" y="851" width="1" height="29" fill="#0000ff"/><rect x="1122" y="816" width="1" height="64" fill="#0000ff"/><rect x="1127" y="849" width="1" height="31" fill="#0000ff"/><rect x="1131" y="836" width="1" height="44" fill="#0000ff"/><rect x="1136" y="810" width="1" height="70" fill="#0000ff"/><rect x="1141" y="705" width="1" height="175" fill="#0000ff"/><rect x="1146" y="697" width="1" height="183" fill="#0000ff"/><rect x="1151" y="781" width="1" height="99" fill="#0000ff"/><rect x="1156" y="790" width="1" height="90" fill="#0000ff"/><rect x="1161" y="768" width="1" height="112" fill="#0000ff"/><rect x="1166" y="833" width="1" height="47" fill="#0000ff"/><rect x="1171" y="830" width="1" height="50" fill="#0000ff"/><rect x="1176" y="835" width="1" height="45" fill="#0000ff"/><rect x="1181" y="841" width="1" height="39" fill="#0000ff"/><rect x="1185" y="846" width="1" height="34" fill="#0000ff"/><rect x="1190" y="838" width="1" height="42" fill="#0000ff"/><rect x="1195" y="828" width="1" height="52" fill="#0000ff"/><rect x="1200" y="836" width="1" height="44" fill="#0000ff"/><rect x="1205" y="846" width="1" height="34" fill="#0000ff"/><rect x="1210" y="833" width="1" height="47" fill="#0000ff"/><rect x="1215" y="852" width="1" height="28" fill="#0000ff"/><rect x="1220" y="838" width="1" height="42" fill="#0000ff"/><rect x="1225" y="833" width="1" height="47" fill="#0000ff"/><rect x="1230" y="847" width="1" height="33" fill="#0000ff"/><rect x="1234" y="843" width="1" height="37" fill="#0000ff"/><rect x="1239" y="851" width="1" height="29" fill="#0000ff"/><rect x="1244" y="768" width="1" height="112" fill="#0000ff"/><rect x="1249" y="812" width="1" height="68" fill="#0000ff"/><rect x="1254" y="781" width="1" height="99" fill="#0000ff"/><rect x="1259" y="830" width="1" height="50" fill="#0000ff"/><rect x="1264" y="767" width="1" height="113" fill="#0000ff"/><rect x="1269" y="814" width="1" height="66" fill="#0000ff"/><rect x="1274" y="801" width="1" height="79" fill="#0000ff"/><rect x="1279" y="814" width="1" height="66" fill="#0000ff"/><rect x="1283" y="854" width="1" height="26" fill="#0000ff"/><rect x="1288" y="830" width="1" height="50" fill="#0000ff"/><rect x="1293" y="836" width="1" height="44" fill="#0000ff"/><rect x="1298" y="618" width="1" height="262" fill="#0000ff"/><rect x="1303" y="847" width="1" height="33" fill="#0000ff"/><rect x="1308" y="844" width="1" height="36" fill="#0000ff"/><rect x="1313" y="843" width="1" height="37" fill="#0000ff"/><rect x="1318" y="859" width="1" height="21" fill="#0000ff"/><rect x="1323" y="854" width="1" height="26" fill="#0000ff"/><rect x="1328" y="858" width="1" height="22" fill="#0000ff"/><rect x="1333" y="848" width="1" height="32" fill="#0000ff"/><rect x="1337" y="849" width="1" height="31" fill="#0000ff"/><rect x="1342" y="849" width="1" height="31" fill="#0000ff"/><rect x="1347" y="846" width="1" height="34" fill="#0000ff"/><rect x="1352" y="857" width="1" height="23" fill="#0000ff"/><rect x="1357" y="800" width="1" height="80" fill="#0000ff"/><rect x="1362" y="823" width="1" height="57" fill="#0000ff"/><rect x="1367" y="835" width="1" height="45" fill="#0000ff"/><rect x="1372" y="826" width="1" height="54" fill="#0000ff"/><rect x="1377" y="856" width="1" height="24" fill="#0000ff"/><rect x="1382" y="862" width="1" height="18" fill="#0000ff"/><rect x="1386" y="859" width="1" height="21" fill="#0000ff"/><rect x="1391" y="852" width="1" height="28" fill="#0000ff"/><rect x="1396" y="756" width="1" height="124" fill="#0000ff"/><rect x="1401" y="845" width="1" height="35" fill="#0000ff"/><rect x="1406" y="805" width="1" height="75" fill="#0000ff"/><rect x="1411" y="849" width="1" height="31" fill="#0000ff"/><rect x="1416" y="849" width="1" height="31" fill="#0000ff"/><rect x="1421" y="848" width="1" height="32" fill="#0000ff"/><rect x="1426" y="861" width="1" height="19" fill="#0000ff"/><rect x="1431" y="861" width="1" height="19" fill="#0000ff"/><rect x="1436" y="846" width="1" height="34" fill="#0000ff"/><rect x="1440" y="859" width="1" height="21" fill="#0000ff"/><rect x="1445" y="853" width="1" height="27" fill="#0000ff"/><rect x="1450" y="831" width="1" height="49" fill="#0000ff"/><rect x="1455" y="816" width="1" height="64" fill="#0000ff"/><rect x="1460" y="736" width="1" height="144" fill="#0000ff"/><rect x="1465" y="836" width="1" height="44" fill="#0000ff"/><rect x="1470" y="855" width="1" height="25" fill="#0000ff"/><rect x="1475" y="854" width="1" height="26" fill="#0000ff"/><rect x="1480" y="852" width="1" height="28" fill="#0000ff"/><rect x="1485" y="851" width="1" height="29" fill="#0000ff"/><rect x="1489" y="835" width="1" height="45" fill="#0000ff"/><rect x="1494" y="811" width="1" height="69" fill="#0000ff"/><rect x="1499" y="851" width="1" height="29" fill="#0000ff"/><rect x="1504" y="848" width="1" height="32" fill="#0000ff"/><rect x="1509" y="855" width="1" height="25" fill="#0000ff"/><rect x="1514" y="844" width="1" height="36" fill="#0000ff"/><rect x="1519" y="862" width="1" height="18" fill="#0000ff"/><rect x="1524" y="857" width="1" height="23" fill="#0000ff"/><rect x="1529" y="847" width="1" height="33" fill="#0000ff"/><rect x="1534" y="854" width="1" height="26" fill="#0000ff"/><rect x="1538" y="818" width="1" height="62" fill="#0000ff"/><rect x="1543" y="804" width="1" height="76" fill="#0000ff"/><rect x="1548" y="852" width="1" height="28" fill="#0000ff"/><rect x="1553" y="856" width="1" height="24" fill="#0000ff"/><rect x="1558" y="854" width="1" height="26" fill="#0000ff"/><rect x="1563" y="818" width="1" height="62" fill="#0000ff"/><rect x="1568" y="856" width="1" height="24" fill="#0000ff"/><rect x="1573" y="867" width="1" height="13" fill="#0000ff"/><rect x="1578" y="858" width="1" height="22" fill="#0000ff"/><rect x="1583" y="824" width="1" height="56" fill="#0000ff"/><rect x="1588" y="852" width="1" height="28" fill="#0000ff"/><rect x="1592" y="849" width="1" height="31" fill="#0000ff"/><rect x="1597" y="848" width="1" height="32" fill="#0000ff"/><rect x="1602" y="860" width="1" height="20" fill="#0000ff"/><rect x="1607" y="840" width="1" height="40" fill="#0000ff"/><rect x="1612" y="807" width="1" height="73" fill="#0000ff"/><rect x="1617" y="828" width="1" height="52" fill="#0000ff"/><rect x="1622" y="830" width="1" height="50" fill="#0000ff"/><rect x="1627" y="820" width="1" height="60" fill="#0000ff"/><rect x="1632" y="840" width="1" height="40" fill="#0000ff"/><rect x="1637" y="842" width="1" height="38" fill="#0000ff"/><rect x="1641" y="849" width="1" height="31" fill="#0000ff"/><rect x="1646" y="844" width="1" height="36" fill="#0000ff"/><rect x="1651" y="853" width="1" height="27" fill="#0000ff"/><rect x="1656" y="858" width="1" height="22" fill="#0000ff"/><rect x="1661" y="845" width="1" height="35" fill="#0000ff"/><rect x="1666" y="866" width="1" height="14" fill="#0000ff"/><rect x="1671" y="858" width="1" height="22" fill="#0000ff"/><rect x="1676" y="860" width="1" height="20" fill="#0000ff"/><rect x="1681" y="849" width="1" height="31" fill="#0000ff"/><rect x="1686" y="855" width="1" height="25" fill="#0000ff"/><rect x="1691" y="853" width="1" height="27" fill="#0000ff"/><rect x="1695" y="857" width="1" height="23" fill="#0000ff"/><rect x="1700" y="852" width="1" height="28" fill="#0000ff"/><rect x="1705" y="855" width="1" height="25" fill="#0000ff"/><rect x="1710" y="840" width="1" height="40" fill="#0000ff"/><rect x="1715" y="864" width="1" height="16" fill="#0000ff"/><rect x="1720" y="860" width="1" height="20" fill="#0000ff"/><rect x="1725" y="862" width="1" height="18" fill="#0000ff"/><rect x="1730" y="852" width="1" height="28" fill="#0000ff"/><rect x="1735" y="854" width="1" height="26" fill="#0000ff"/><rect x="1740" y="849" width="1" height="31" fill="#0000ff"/><rect x="1744" y="767" width="1" height="113" fill="#0000ff"/><rect x="1749" y="838" width="1" height="42" fill="#0000ff"/><rect x="1754" y="813" width="1" height="67" fill="#0000ff"/><rect x="1759" y="848" width="1" height="32" fill="#0000ff"/><rect x="1764" y="823" width="1" height="57" fill="#0000ff"/><rect x="1769" y="840" width="1" height="40" fill="#0000ff"/><rect x="1774" y="845" width="1" height="35" fill="#0000ff"/><rect x="1779" y="838" width="1" height="42" fill="#0000ff"/><rect x="1784" y="839" width="1" height="41" fill="#0000ff"/><rect x="1789" y="857" width="1" height="23" fill="#0000ff"/><rect x="1793" y="856" width="1" height="24" fill="#0000ff"/><rect x="1798" y="841" width="1" height="39" fill="#0000ff"/><rect x="35" y="627" width="1820" height="1" fill="#0000ff"/><rect x="35" y="849" width="1820" height="1" fill="#0000ff"/><polyline points="36,632 38.5,627.0 43.5,745.6 48.5,810.0 53.5,822.2 58.5,831.1 62.5,811.1 67.5,801.1 72.5,814.4 77.5,823.3 82.5,848.9 87.5,733.3 92.5,754.4 97.5,741.6 102.5,770.0 107.5,728.9 111.5,728.9 116.5,807.8 121.5,827.8 126.5,845.6 131.5,742.2 136.5,805.6 141.5,827.3 146.5,788.9 151.5,780.0 156.5,811.1 160.5,723.3 165.5,766.7 170.5,722.9 175.5,763.3 180.5,790.0 185.5,795.6 190.5,815.6 195.5,728.2 200.5,737.1 205.5,700.0 210.5,676.1 214.5,671.7 219.5,644.3 224.5,747.2 229.5,667.2 234.5,657.2 239.5,646.6 244.5,691.2 249.5,691.2 254.5,687.2 259.5,740.0 263.5,801.1 268.5,718.4 273.5,766.7 278.5,741.6 283.5,749.6 288.5,717.8 293.5,808.9 298.5,736.2 303.5,761.1 308.5,814.4 313.5,850.4 317.5,855.6 322.5,855.6 327.5,793.3 332.5,803.3 337.5,794.0 342.5,725.0 347.5,699.4 352.5,671.7 357.5,651.7 362.5,638.3 366.5,682.8 371.5,670.1 376.5,689.4 381.5,650.6 386.5,642.1 391.5,636.1 396.5,632.8 401.5,628.3 406.5,619.0 411.5,718.9 416.5,763.3 420.5,804.4 425.5,798.4 430.5,831.1 435.5,775.6 440.5,761.1 445.5,793.3 450.5,738.0 455.5,676.1 460.5,688.3 465.5,653.2 469.5,641.7 474.5,630.1 479.5,710.6 484.5,745.7 489.5,682.1 494.5,737.2 499.5,667.9 504.5,662.1 509.5,716.1 514.5,768.8 518.5,761.2 523.5,816.7 528.5,734.3 533.5,744.3 538.5,754.3 543.5,692.1 548.5,686.1 553.5,679.0 558.5,657.9 563.5,651.2 568.5,662.3 572.5,623.9 577.5,621.0 582.5,619.0 587.5,673.9 592.5,737.2 597.5,775.4 602.5,767.2 607.5,710.1 612.5,763.0 617.5,827.8 621.5,840.7 626.5,807.8 631.5,822.2 636.5,836.2 641.5,817.8 646.5,657.9 651.5,770.6 656.5,712.1 661.5,748.3 666.5,738.3 671.5,707.2 675.5,708.3 680.5,693.9 685.5,780.6 690.5,772.8 695.5,758.3 700.5,731.7 705.5,687.2 710.5,661.7 715.5,653.9 720.5,641.7 724.5,627.2 729.5,627.2 734.5,765.7 739.5,706.1 744.5,672.3 749.5,665.7 754.5,647.9 759.5,636.1 764.5,627.9 769.5,625.7 773.5,623.2 778.5,701.7 783.5,779.4 788.5,792.2 793.5,835.6 798.5,840.7 803.5,841.6 808.5,743.9 813.5,753.2 818.5,709.4 823.5,696.1 827.5,658.3 832.5,719.4 837.5,677.2 842.5,646.6 847.5,726.1 852.5,763.9 857.5,782.1 862.5,710.6 867.5,668.3 872.5,638.3 876.5,633.2 881.5,682.1 886.5,679.0 891.5,675.4 896.5,706.1 901.5,725.0 906.5,685.7 911.5,813.3 916.5,743.4 921.5,758.3 926.5,810.0 930.5,818.9 935.5,827.8 940.5,692.3 945.5,696.8 950.5,650.6 955.5,632.8 960.5,658.3 965.5,645.7 970.5,706.1 975.5,691.7 979.5,737.2 984.5,792.2 989.5,804.4 994.5,796.7 999.5,821.1 1004.5,825.1 1009.5,748.0 1014.5,693.9 1019.5,685.0 1024.5,655.4 1028.5,821.1 1033.5,730.0 1038.5,677.2 1043.5,730.0 1048.5,792.2 1053.5,803.3 1058.5,749.4 1063.5,770.6 1068.5,699.9 1073.5,697.7 1078.5,667.9 1082.5,665.0 1087.5,659.4 1092.5,728.3 1097.5,688.3 1102.5,652.3 1107.5,708.3 1112.5,749.0 1117.5,777.8 1122.5,828.2 1127.5,767.3 1131.5,786.7 1136.5,836.7 1141.5,854.9 1146.5,856.2 1151.5,802.2 1156.5,817.1 1161.5,745.6 1166.5,763.3 1171.5,715.0 1176.5,691.2 1181.5,705.0 1185.5,731.2 1190.5,710.6 1195.5,666.1 1200.5,650.1 1205.5,636.1 1210.5,630.6 1215.5,629.4 1220.5,629.0 1225.5,619.9 1230.5,617.9 1234.5,617.9 1239.5,623.4 1244.5,620.6 1249.5,617.2 1254.5,616.3 1259.5,616.3 1264.5,615.4 1269.5,615.4 1274.5,690.0 1279.5,811.1 1283.5,790.0 1288.5,765.6 1293.5,798.9 1298.5,803.3 1303.5,728.2 1308.5,767.8 1313.5,780.0 1318.5,782.2 1323.5,805.6 1328.5,776.2 1333.5,801.1 1337.5,737.2 1342.5,663.9 1347.5,646.1 1352.5,636.1 1357.5,718.3 1362.5,653.2 1367.5,658.8 1372.5,788.4 1377.5,764.0 1382.5,785.1 1386.5,785.6 1391.5,821.6 1396.5,685.0 1401.5,758.3 1406.5,692.8 1411.5,688.3 1416.5,683.9 1421.5,665.4 1426.5,683.9 1431.5,763.2 1436.5,741.7 1440.5,699.0 1445.5,731.2 1450.5,661.2 1455.5,648.3 1460.5,624.3 1465.5,623.9 1470.5,626.8 1475.5,677.2 1480.5,673.9 1485.5,709.4 1489.5,644.3 1494.5,639.0 1499.5,686.1 1504.5,725.7 1509.5,698.3 1514.5,753.4 1519.5,750.1 1524.5,773.9 1529.5,695.0 1534.5,658.3 1538.5,721.7 1543.5,822.9 1548.5,741.7 1553.5,716.1 1558.5,701.7 1563.5,661.2 1568.5,692.8 1573.5,729.4 1578.5,693.9 1583.5,687.2 1588.5,665.7 1592.5,637.2 1597.5,630.1 1602.5,701.7 1607.5,740.6 1612.5,653.9 1617.5,650.6 1622.5,750.1 1627.5,727.7 1632.5,727.7 1637.5,805.1 1641.5,810.0 1646.5,842.7 1651.5,835.6 1656.5,768.9 1661.5,792.7 1666.5,793.8 1671.5,731.1 1676.5,752.7 1681.5,663.9 1686.5,651.7 1691.5,640.6 1695.5,681.7 1700.5,722.1 1705.5,674.6 1710.5,653.2 1715.5,669.4 1720.5,721.2 1725.5,708.3 1730.5,792.2 1735.5,677.2 1740.5,655.0 1744.5,628.3 1749.5,627.2 1754.5,692.3 1759.5,667.2 1764.5,741.7 1769.5,687.2 1774.5,704.3 1779.5,686.1 1784.5,796.2 1789.5,755.4 1793.5,735.0 1798.5,726.1" fill="none" stroke="#ff0000" stroke-width="1"/><rect x="35" y="0" width="1" height="881" fill="#000"/><rect x="1855" y="0" width="1" height="881" fill="#000"/><rect x="35" y="880" width="1821" height="1" fill="#000"/><rect x="35" y="891" width="1821" height="1" fill="#000"/><g fill="#000"><rect x="30" y="587" width="5" height="1"/><rect x="1856" y="587" width="5" height="1"/><rect x="33" y="583" width="2" height="1"/><rect x="1856" y="583" width="2" height="1"/><rect x="33" y="580" width="2" height="1"/><rect x="1856" y="580" width="2" height="1"/><rect x="33" y="576" width="2" height="1"/><rect x="1856" y="576" width="2" height="1"/><rect x="33" y="573" width="2" height="1"/><rect x="1856" y="573" width="2" height="1"/><rect x="31" y="569" width="4" height="1"/><rect x="1856" y="569" width="4" height="1"/><rect x="33" y="566" width="2" height="1"/><rect x="1856" y="566" width="2" height="1"/><rect x="33" y="562" width="2" height="1"/><rect x="1856" y="562" width="2" height="1"/><rect x="33" y="559" width="2" height="1"/><rect x="1856" y="559" width="2" height="1"/><rect x="33" y="556" width="2" height="1"/><rect x="1856" y="556" width="2" height="1"/><rect x="30" y="552" width="5" height="1"/><rect x="1856" y="552" width="5" height="1"/><rect x="33" y="549" width="2" height="1"/><rect x="1856" y="549" width="2" height="1"/><rect x="33" y="545" width="2" height="1"/><rect x="1856" y="545" width="2" height="1"/><rect x="33" y="542" width="2" height="1"/><rect x="1856" y="542" width="2" height="1"/><rect x="33" y="538" width="2" height="1"/><rect x="1856" y="538" width="2" height="1"/><rect x="31" y="535" width="4" height="1"/><rect x="1856" y="535" width="4" height="1"/><rect x="33" y="531" width="2" height="1"/><rect x="1856" y="531" width="2" height="1"/><rect x="33" y="528" width="2" height="1"/><rect x="1856" y="528" width="2" height="1"/><rect x="33" y="524" width="2" height="1"/><rect x="1856" y="524" width="2" height="1"/><rect x="33" y="521" width="2" height="1"/><rect x="1856" y="521" width="2" height="1"/><rect x="30" y="517" width="5" height="1"/><rect x="1856" y="517" width="5" height="1"/><rect x="33" y="514" width="2" height="1"/><rect x="1856" y="514" width="2" height="1"/><rect x="33" y="511" width="2" height="1"/><rect x="1856" y="511" width="2" height="1"/><rect x="33" y="507" width="2" height="1"/><rect x="1856" y="507" width="2" height="1"/><rect x="33" y="504" width="2" height="1"/><rect x="1856" y="504" width="2" height="1"/><rect x="31" y="500" width="4" height="1"/><rect x="1856" y="500" width="4" height="1"/><rect x="33" y="497" width="2" height="1"/><rect x="1856" y="497" width="2" height="1"/><rect x="33" y="493" width="2" height="1"/><rect x="1856" y="493" width="2" height="1"/><rect x="33" y="490" width="2" height="1"/><rect x="1856" y="490" width="2" height="1"/><rect x="33" y="486" width="2" height="1"/><rect x="1856" y="486" width="2" height="1"/><rect x="30" y="483" width="5" height="1"/><rect x="1856" y="483" width="5" height="1"/><rect x="33" y="479" width="2" height="1"/><rect x="1856" y="479" width="2" height="1"/><rect x="33" y="476" width="2" height="1"/><rect x="1856" y="476" width="2" height="1"/><rect x="33" y="472" width="2" height="1"/><rect x="1856" y="472" width="2" height="1"/><rect x="33" y="469" width="2" height="1"/><rect x="1856" y="469" width="2" height="1"/><rect x="31" y="466" width="4" height="1"/><rect x="1856" y="466" width="4" height="1"/><rect x="33" y="462" width="2" height="1"/><rect x="1856" y="462" width="2" height="1"/><rect x="33" y="459" width="2" height="1"/><rect x="1856" y="459" width="2" height="1"/><rect x="33" y="455" width="2" height="1"/><rect x="1856" y="455" width="2" height="1"/><rect x="33" y="452" width="2" height="1"/><rect x="1856" y="452" width="2" height="1"/><rect x="30" y="448" width="5" height="1"/><rect x="1856" y="448" width="5" height="1"/><rect x="33" y="445" width="2" height="1"/><rect x="1856" y="445" width="2" height="1"/><rect x="33" y="441" width="2" height="1"/><rect x="1856" y="441" width="2" height="1"/><rect x="33" y="438" width="2" height="1"/><rect x="1856" y="438" width="2" height="1"/><rect x="33" y="434" width="2" height="1"/><rect x="1856" y="434" width="2" height="1"/><rect x="31" y="431" width="4" height="1"/><rect x="1856" y="431" width="4" height="1"/><rect x="33" y="427" width="2" height="1"/><rect x="1856" y="427" width="2" height="1"/><rect x="33" y="424" width="2" height="1"/><rect x="1856" y="424" width="2" height="1"/><rect x="33" y="421" width="2" height="1"/><rect x="1856" y="421" width="2" height="1"/><rect x="33" y="417" width="2" height="1"/><rect x="1856" y="417" width="2" height="1"/><rect x="30" y="414" width="5" height="1"/><rect x="1856" y="414" width="5" height="1"/><rect x="33" y="410" width="2" height="1"/><rect x="1856" y="410" width="2" height="1"/><rect x="33" y="407" width="2" height="1"/><rect x="1856" y="407" width="2" height="1"/><rect x="33" y="403" width="2" height="1"/><rect x="1856" y="403" width="2" height="1"/><rect x="33" y="400" width="2" height="1"/><rect x="1856" y="400" width="2" height="1"/><rect x="31" y="396" width="4" height="1"/><rect x="1856" y="396" width="4" height="1"/><rect x="33" y="393" width="2" height="1"/><rect x="1856" y="393" width="2" height="1"/><rect x="33" y="389" width="2" height="1"/><rect x="1856" y="389" width="2" height="1"/><rect x="33" y="386" width="2" height="1"/><rect x="1856" y="386" width="2" height="1"/><rect x="33" y="382" width="2" height="1"/><rect x="1856" y="382" width="2" height="1"/><rect x="30" y="379" width="5" height="1"/><rect x="1856" y="379" width="5" height="1"/><rect x="33" y="376" width="2" height="1"/><rect x="1856" y="376" width="2" height="1"/><rect x="33" y="372" width="2" height="1"/><rect x="1856" y="372" width="2" height="1"/><rect x="33" y="369" width="2" height="1"/><rect x="1856" y="369" width="2" height="1"/><rect x="33" y="365" width="2" height="1"/><rect x="1856" y="365" width="2" height="1"/><rect x="31" y="362" width="4" height="1"/><rect x="1856" y="362" width="4" height="1"/><rect x="33" y="358" width="2" height="1"/><rect x="1856" y="358" width="2" height="1"/><rect x="33" y="355" width="2" height="1"/><rect x="1856" y="355" width="2" height="1"/><rect x="33" y="351" width="2" height="1"/><rect x="1856" y="351" width="2" height="1"/><rect x="33" y="348" width="2" height="1"/><rect x="1856" y="348" width="2" height="1"/><rect x="30" y="344" width="5" height="1"/><rect x="1856" y="344" width="5" height="1"/><rect x="33" y="341" width="2" height="1"/><rect x="1856" y="341" width="2" height="1"/><rect x="33" y="337" width="2" height="1"/><rect x="1856" y="337" width="2" height="1"/><rect x="33" y="334" width="2" height="1"/><rect x="1856" y="334" width="2" height="1"/><rect x="33" y="331" width="2" height="1"/><rect x="1856" y="331" width="2" height="1"/><rect x="31" y="327" width="4" height="1"/><rect x="1856" y="327" width="4" height="1"/><rect x="33" y="324" width="2" height="1"/><rect x="1856" y="324" width="2" height="1"/><rect x="33" y="320" width="2" height="1"/><rect x="1856" y="320" width="2" height="1"/><rect x="33" y="317" width="2" height="1"/><rect x="1856" y="317" width="2" height="1"/><rect x="33" y="313" width="2" height="1"/><rect x="1856" y="313" width="2" height="1"/><rect x="30" y="310" width="5" height="1"/><rect x="1856" y="310" width="5" height="1"/><rect x="33" y="306" width="2" height="1"/><rect x="1856" y="306" width="2" height="1"/><rect x="33" y="303" width="2" height="1"/><rect x="1856" y="303" width="2" height="1"/><rect x="33" y="299" width="2" height="1"/><rect x="1856" y="299" width="2" height="1"/><rect x="33" y="296" width="2" height="1"/><rect x="1856" y="296" width="2" height="1"/><rect x="31" y="292" width="4" height="1"/><rect x="1856" y="292" width="4" height="1"/><rect x="33" y="289" width="2" height="1"/><rect x="1856" y="289" width="2" height="1"/><rect x="33" y="286" width="2" height="1"/><rect x="1856" y="286" width="2" height="1"/><rect x="33" y="282" width="2" height="1"/><rect x="1856" y="282" width="2" height="1"/><rect x="33" y="279" width="2" height="1"/><rect x="1856" y="279" width="2" height="1"/><rect x="30" y="275" width="5" height="1"/><rect x="1856" y="275" width="5" height="1"/><rect x="33" y="272" width="2" height="1"/><rect x="1856" y="272" width="2" height="1"/><rect x="33" y="268" width="2" height="1"/><rect x="1856" y="268" width="2" height="1"/><rect x="33" y="265" width="2" height="1"/><rect x="1856" y="265" width="2" height="1"/><rect x="33" y="261" width="2" height="1"/><rect x="1856" y="261" width="2" height="1"/><rect x="31" y="258" width="4" height="1"/><rect x="1856" y="258" width="4" height="1"/><rect x="33" y="254" width="2" height="1"/><rect x="1856" y="254" width="2" height="1"/><rect x="33" y="251" width="2" height="1"/><rect x="1856" y="251" width="2" height="1"/><rect x="33" y="247" width="2" height="1"/><rect x="1856" y="247" width="2" height="1"/><rect x="33" y="244" width="2" height="1"/><rect x="1856" y="244" width="2" height="1"/><rect x="30" y="241" width="5" height="1"/><rect x="1856" y="241" width="5" height="1"/><rect x="33" y="237" width="2" height="1"/><rect x="1856" y="237" width="2" height="1"/><rect x="33" y="234" width="2" height="1"/><rect x="1856" y="234" width="2" height="1"/><rect x="33" y="230" width="2" height="1"/><rect x="1856" y="230" width="2" height="1"/><rect x="33" y="227" width="2" height="1"/><rect x="1856" y="227" width="2" height="1"/><rect x="31" y="223" width="4" height="1"/><rect x="1856" y="223" width="4" height="1"/><rect x="33" y="220" width="2" height="1"/><rect x="1856" y="220" width="2" height="1"/><rect x="33" y="216" width="2" height="1"/><rect x="1856" y="216" width="2" height="1"/><rect x="33" y="213" width="2" height="1"/><rect x="1856" y="213" width="2" height="1"/><rect x="33" y="209" width="2" height="1"/><rect x="1856" y="209" width="2" height="1"/><rect x="30" y="206" width="5" height="1"/><rect x="1856" y="206" width="5" height="1"/><rect x="33" y="202" width="2" height="1"/><rect x="1856" y="202" width="2" height="1"/><rect x="33" y="199" width="2" height="1"/><rect x="1856" y="199" width="2" height="1"/><rect x="33" y="196" width="2" height="1"/><rect x="1856" y="196" width="2" height="1"/><rect x="33" y="192" width="2" height="1"/><rect x="1856" y="192" width="2" height="1"/><rect x="31" y="189" width="4" height="1"/><rect x="1856" y="189" width="4" height="1"/><rect x="33" y="185" width="2" height="1"/><rect x="1856" y="185" width="2" height="1"/><rect x="33" y="182" width="2" height="1"/><rect x="1856" y="182" width="2" height="1"/><rect x="33" y="178" width="2" height="1"/><rect x="1856" y="178" width="2" height="1"/><rect x="33" y="175" width="2" height="1"/><rect x="1856" y="175" width="2" height="1"/><rect x="30" y="171" width="5" height="1"/><rect x="1856" y="171" width="5" height="1"/><rect x="33" y="168" width="2" height="1"/><rect x="1856" y="168" width="2" height="1"/><rect x="33" y="164" width="2" height="1"/><rect x="1856" y="164" width="2" height="1"/><rect x="33" y="161" width="2" height="1"/><rect x="1856" y="161" width="2" height="1"/><rect x="33" y="158" width="2" height="1"/><rect x="1856" y="158" width="2" height="1"/><rect x="31" y="154" width="4" height="1"/><rect x="1856" y="154" width="4" height="1"/><rect x="33" y="151" width="2" height="1"/><rect x="1856" y="151" width="2" height="1"/><rect x="33" y="147" width="2" height="1"/><rect x="1856" y="147" width="2" height="1"/><rect x="33" y="144" width="2" height="1"/><rect x="1856" y="144" width="2" height="1"/><rect x="33" y="140" width="2" height="1"/><rect x="1856" y="140" width="2" height="1"/><rect x="30" y="137" width="5" height="1"/><rect x="1856" y="137" width="5" height="1"/><rect x="33" y="133" width="2" height="1"/><rect x="1856" y="133" width="2" height="1"/><rect x="33" y="130" width="2" height="1"/><rect x="1856" y="130" width="2" height="1"/><rect x="33" y="126" width="2" height="1"/><rect x="1856" y="126" width="2" height="1"/><rect x="33" y="123" width="2" height="1"/><rect x="1856" y="123" width="2" height="1"/><rect x="31" y="119" width="4" height="1"/><rect x="1856" y="119" width="4" height="1"/><rect x="33" y="116" width="2" height="1"/><rect x="1856" y="116" width="2" height="1"/><rect x="33" y="113" width="2" height="1"/><rect x="1856" y="113" width="2" height="1"/><rect x="33" y="109" width="2" height="1"/><rect x="1856" y="109" width="2" height="1"/><rect x="33" y="106" width="2" height="1"/><rect x="1856" y="106" width="2" height="1"/><rect x="30" y="102" width="5" height="1"/><rect x="1856" y="102" width="5" height="1"/><rect x="33" y="99" width="2" height="1"/><rect x="1856" y="99" width="2" height="1"/><rect x="33" y="95" width="2" height="1"/><rect x="1856" y="95" width="2" height="1"/><rect x="33" y="92" width="2" height="1"/><rect x="1856" y="92" width="2" height="1"/><rect x="33" y="88" width="2" height="1"/><rect x="1856" y="88" width="2" height="1"/><rect x="31" y="85" width="4" height="1"/><rect x="1856" y="85" width="4" height="1"/><rect x="33" y="81" width="2" height="1"/><rect x="1856" y="81" width="2" height="1"/><rect x="33" y="78" width="2" height="1"/><rect x="1856" y="78" width="2" height="1"/><rect x="33" y="74" width="2" height="1"/><rect x="1856" y="74" width="2" height="1"/><rect x="33" y="71" width="2" height="1"/><rect x="1856" y="71" width="2" height="1"/><rect x="30" y="68" width="5" height="1"/><rect x="1856" y="68" width="5" height="1"/><rect x="33" y="64" width="2" height="1"/><rect x="1856" y="64" width="2" height="1"/><rect x="33" y="61" width="2" height="1"/><rect x="1856" y="61" width="2" height="1"/><rect x="33" y="57" width="2" height="1"/><rect x="1856" y="57" width="2" height="1"/><rect x="33" y="54" width="2" height="1"/><rect x="1856" y="54" width="2" height="1"/><rect x="31" y="50" width="4" height="1"/><rect x="1856" y="50" width="4" height="1"/><rect x="33" y="47" width="2" height="1"/><rect x="1856" y="47" width="2" height="1"/><rect x="33" y="43" width="2" height="1"/><rect x="1856" y="43" width="2" height="1"/><rect x="33" y="40" width="2" height="1"/><rect x="1856" y="40" width="2" height="1"/><rect x="33" y="36" width="2" height="1"/><rect x="1856" y="36" width="2" height="1"/><rect x="30" y="33" width="5" height="1"/><rect x="1856" y="33" width="5" height="1"/><rect x="33" y="29" width="2" height="1"/><rect x="1856" y="29" width="2" height="1"/><rect x="33" y="26" width="2" height="1"/><rect x="1856" y="26" width="2" height="1"/><rect x="33" y="23" width="2" height="1"/><rect x="1856" y="23" width="2" height="1"/><rect x="33" y="19" width="2" height="1"/><rect x="1856" y="19" width="2" height="1"/><rect x="31" y="16" width="4" height="1"/><rect x="1856" y="16" width="4" height="1"/><rect x="33" y="12" width="2" height="1"/><rect x="1856" y="12" width="2" height="1"/><rect x="33" y="9" width="2" height="1"/><rect x="1856" y="9" width="2" height="1"/><rect x="33" y="5" width="2" height="1"/><rect x="1856" y="5" width="2" height="1"/><rect x="33" y="2" width="2" height="1"/><rect x="1856" y="2" width="2" height="1"/><rect x="33" y="878" width="2" height="1"/><rect x="33" y="876" width="2" height="1"/><rect x="31" y="873" width="4" height="1"/><rect x="33" y="871" width="2" height="1"/><rect x="33" y="868" width="2" height="1"/><rect x="33" y="866" width="2" height="1"/><rect x="33" y="864" width="2" height="1"/><rect x="30" y="861" width="5" height="1"/><rect x="33" y="859" width="2" height="1"/><rect x="33" y="856" width="2" height="1"/><rect x="33" y="854" width="2" height="1"/><rect x="33" y="851" width="2" height="1"/><rect x="31" y="849" width="4" height="1"/><rect x="33" y="846" width="2" height="1"/><rect x="33" y="844" width="2" height="1"/><rect x="33" y="841" width="2" height="1"/><rect x="33" y="839" width="2" height="1"/><rect x="30" y="837" width="5" height="1"/><rect x="33" y="834" width="2" height="1"/><rect x="33" y="832" width="2" height="1"/><rect x="33" y="829" width="2" height="1"/><rect x="33" y="827" width="2" height="1"/><rect x="31" y="824" width="4" height="1"/><rect x="33" y="822" width="2" height="1"/><rect x="33" y="819" width="2" height="1"/><rect x="33" y="817" width="2" height="1"/><rect x="33" y="814" width="2" height="1"/><rect x="30" y="812" width="5" height="1"/><rect x="33" y="809" width="2" height="1"/><rect x="33" y="807" width="2" height="1"/><rect x="33" y="805" width="2" height="1"/><rect x="33" y="802" width="2" height="1"/><rect x="31" y="800" width="4" height="1"/><rect x="33" y="797" width="2" height="1"/><rect x="33" y="795" width="2" height="1"/><rect x="33" y="792" width="2" height="1"/><rect x="33" y="790" width="2" height="1"/><rect x="30" y="787" width="5" height="1"/><rect x="33" y="785" width="2" height="1"/><rect x="33" y="782" width="2" height="1"/><rect x="33" y="780" width="2" height="1"/><rect x="33" y="777" width="2" height="1"/><rect x="31" y="775" width="4" height="1"/><rect x="33" y="773" width="2" height="1"/><rect x="33" y="770" width="2" height="1"/><rect x="33" y="768" width="2" height="1"/><rect x="33" y="765" width="2" height="1"/><rect x="30" y="763" width="5" height="1"/><rect x="33" y="760" width="2" height="1"/><rect x="33" y="758" width="2" height="1"/><rect x="33" y="755" width="2" height="1"/><rect x="33" y="753" width="2" height="1"/><rect x="31" y="750" width="4" height="1"/><rect x="33" y="748" width="2" height="1"/><rect x="33" y="745" width="2" height="1"/><rect x="33" y="743" width="2" height="1"/><rect x="33" y="741" width="2" height="1"/><rect x="30" y="738" width="5" height="1"/><rect x="33" y="736" width="2" height="1"/><rect x="33" y="733" width="2" height="1"/><rect x="33" y="731" width="2" height="1"/><rect x="33" y="728" width="2" height="1"/><rect x="31" y="726" width="4" height="1"/><rect x="33" y="723" width="2" height="1"/><rect x="33" y="721" width="2" height="1"/><rect x="33" y="718" width="2" height="1"/><rect x="33" y="716" width="2" height="1"/><rect x="30" y="714" width="5" height="1"/><rect x="33" y="711" width="2" height="1"/><rect x="33" y="709" width="2" height="1"/><rect x="33" y="706" width="2" height="1"/><rect x="33" y="704" width="2" height="1"/><rect x="31" y="701" width="4" height="1"/><rect x="33" y="699" width="2" height="1"/><rect x="33" y="696" width="2" height="1"/><rect x="33" y="694" width="2" height="1"/><rect x="33" y="691" width="2" height="1"/><rect x="30" y="689" width="5" height="1"/><rect x="33" y="686" width="2" height="1"/><rect x="33" y="684" width="2" height="1"/><rect x="33" y="682" width="2" height="1"/><rect x="33" y="679" width="2" height="1"/><rect x="31" y="677" width="4" height="1"/><rect x="33" y="674" width="2" height="1"/><rect x="33" y="672" width="2" height="1"/><rect x="33" y="669" width="2" height="1"/><rect x="33" y="667" width="2" height="1"/><rect x="30" y="664" width="5" height="1"/><rect x="33" y="662" width="2" height="1"/><rect x="33" y="659" width="2" height="1"/><rect x="33" y="657" width="2" height="1"/><rect x="33" y="654" width="2" height="1"/><rect x="31" y="652" width="4" height="1"/><rect x="33" y="650" width="2" height="1"/><rect x="33" y="647" width="2" height="1"/><rect x="33" y="645" width="2" height="1"/><rect x="33" y="642" width="2" height="1"/><rect x="30" y="640" width="5" height="1"/><rect x="33" y="637" width="2" height="1"/><rect x="33" y="635" width="2" height="1"/><rect x="33" y="632" width="2" height="1"/><rect x="33" y="630" width="2" height="1"/><rect x="31" y="627" width="4" height="1"/><rect x="33" y="625" width="2" height="1"/><rect x="33" y="622" width="2" height="1"/><rect x="33" y="620" width="2" height="1"/><rect x="33" y="618" width="2" height="1"/><rect x="30" y="615" width="5" height="1"/><rect x="33" y="613" width="2" height="1"/><rect x="33" y="610" width="2" height="1"/><rect x="33" y="608" width="2" height="1"/><rect x="33" y="605" width="2" height="1"/><rect x="31" y="603" width="4" height="1"/><rect x="33" y="600" width="2" height="1"/><rect x="33" y="598" width="2" height="1"/><rect x="33" y="595" width="2" height="1"/><rect x="1856" y="874" width="3" height="1"/><rect x="1856" y="869" width="3" height="1"/><rect x="1856" y="863" width="3" height="1"/><rect x="1856" y="857" width="3" height="1"/><rect x="1856" y="851" width="5" height="1"/><rect x="1856" y="846" width="3" height="1"/><rect x="1856" y="840" width="3" height="1"/><rect x="1856" y="834" width="3" height="1"/><rect x="1856" y="829" width="3" height="1"/><rect x="1856" y="823" width="5" height="1"/><rect x="1856" y="817" width="3" height="1"/><rect x="1856" y="811" width="3" height="1"/><rect x="1856" y="806" width="3" height="1"/><rect x="1856" y="800" width="3" height="1"/><rect x="1856" y="794" width="5" height="1"/><rect x="1856" y="788" width="3" height="1"/><rect x="1856" y="783" width="3" height="1"/><rect x="1856" y="777" width="3" height="1"/><rect x="1856" y="771" width="3" height="1"/><rect x="1856" y="765" width="5" height="1"/><rect x="1856" y="760" width="3" height="1"/><rect x="1856" y="754" width="3" height="1"/><rect x="1856" y="748" width="3" height="1"/><rect x="1856" y="742" width="3" height="1"/><rect x="1856" y="737" width="5" height="1"/><rect x="1856" y="731" width="3" height="1"/><rect x="1856" y="725" width="3" height="1"/><rect x="1856" y="719" width="3" height="1"/><rect x="1856" y="714" width="3" height="1"/><rect x="1856" y="708" width="5" height="1"/><rect x="1856" y="702" width="3" height="1"/><rect x="1856" y="696" width="3" height="1"/><rect x="1856" y="691" width="3" height="1"/><rect x="1856" y="685" width="3" height="1"/><rect x="1856" y="679" width="5" height="1"/><rect x="1856" y="673" width="3" height="1"/><rect x="1856" y="668" width="3" height="1"/><rect x="1856" y="662" width="3" height="1"/><rect x="1856" y="656" width="3" height="1"/><rect x="1856" y="651" width="5" height="1"/><rect x="1856" y="645" width="3" height="1"/><rect x="1856" y="639" width="3" height="1"/><rect x="1856" y="633" width="3" height="1"/><rect x="1856" y="628" width="3" height="1"/><rect x="1856" y="622" width="5" height="1"/><rect x="1856" y="616" width="3" height="1"/><rect x="1856" y="610" width="3" height="1"/><rect x="1856" y="605" width="3" height="1"/><rect x="1856" y="599" width="3" height="1"/></g><g fill="#000"><rect x="48" y="880" width="1" height="12"/><rect x="72" y="880" width="1" height="12"/><rect x="97" y="880" width="1" height="12"/><rect x="121" y="880" width="1" height="12"/><rect x="146" y="880" width="1" height="12"/><rect x="170" y="880" width="1" height="12"/><rect x="195" y="880" width="1" height="12"/><rect x="219" y="880" width="1" height="12"/><rect x="244" y="880" width="1" height="12"/><rect x="268" y="880" width="1" height="12"/><rect x="293" y="880" width="1" height="12"/><rect x="317" y="880" width="1" height="12"/><rect x="342" y="880" width="1" height="12"/><rect x="362" y="880" width="1" height="12"/><rect x="386" y="880" width="1" height="12"/><rect x="411" y="880" width="1" height="12"/><rect x="435" y="880" width="1" height="12"/><rect x="460" y="880" width="1" height="12"/><rect x="484" y="880" width="1" height="12"/><rect x="509" y="880" width="1" height="12"/><rect x="533" y="880" width="1" height="12"/><rect x="558" y="880" width="1" height="12"/><rect x="582" y="880" width="1" height="12"/><rect x="607" y="880" width="1" height="12"/><rect x="631" y="880" width="1" height="12"/><rect x="656" y="880" width="1" height="12"/><rect x="680" y="880" width="1" height="12"/><rect x="705" y="880" width="1" height="12"/><rect x="729" y="880" width="1" height="12"/><rect x="754" y="880" width="1" height="12"/><rect x="778" y="880" width="1" height="12"/><rect x="803" y="880" width="1" height="12"/><rect x="813" y="880" width="1" height="12"/><rect x="827" y="880" width="1" height="12"/><rect x="852" y="880" width="1" height="12"/><rect x="876" y="880" width="1" height="12"/><rect x="901" y="880" width="1" height="12"/><rect x="926" y="880" width="1" height="12"/><rect x="950" y="880" width="1" height="12"/><rect x="975" y="880" width="1" height="12"/><rect x="999" y="880" width="1" height="12"/><rect x="1024" y="880" width="1" height="12"/><rect x="1048" y="880" width="1" height="12"/><rect x="1073" y="880" width="1" height="12"/><rect x="1097" y="880" width="1" height="12"/><rect x="1122" y="880" width="1" height="12"/><rect x="1146" y="880" width="1" height="12"/><rect x="1171" y="880" width="1" height="12"/><rect x="1190" y="880" width="1" height="12"/><rect x="1210" y="880" width="1" height="12"/><rect x="1230" y="880" width="1" height="12"/><rect x="1254" y="880" width="1" height="12"/><rect x="1279" y="880" width="1" height="12"/><rect x="1303" y="880" width="1" height="12"/><rect x="1328" y="880" width="1" height="12"/><rect x="1352" y="880" width="1" height="12"/><rect x="1377" y="880" width="1" height="12"/><rect x="1401" y="880" width="1" height="12"/><rect x="1426" y="880" width="1" height="12"/><rect x="1450" y="880" width="1" height="12"/><rect x="1475" y="880" width="1" height="12"/><rect x="1499" y="880" width="1" height="12"/><rect x="1524" y="880" width="1" height="12"/><rect x="1548" y="880" width="1" height="12"/><rect x="1573" y="880" width="1" height="12"/><rect x="1592" y="880" width="1" height="12"/><rect x="1617" y="880" width="1" height="12"/><rect x="1641" y="880" width="1" height="12"/><rect x="1666" y="880" width="1" height="12"/><rect x="1691" y="880" width="1" height="12"/><rect x="1715" y="880" width="1" height="12"/><rect x="1740" y="880" width="1" height="12"/><rect x="1764" y="880" width="1" height="12"/><rect x="1789" y="880" width="1" height="12"/><rect x="1813" y="880" width="1" height="12"/><rect x="1838" y="880" width="1" height="12"/><rect x="97" y="880" width="1" height="22"/><rect x="195" y="880" width="1" height="22"/><rect x="308" y="880" width="1" height="22"/><rect x="411" y="880" width="1" height="22"/><rect x="514" y="880" width="1" height="22"/><rect x="626" y="880" width="1" height="22"/><rect x="729" y="880" width="1" height="22"/><rect x="818" y="880" width="1" height="22"/><rect x="926" y="880" width="1" height="22"/><rect x="1024" y="880" width="1" height="22"/><rect x="1127" y="880" width="1" height="22"/><rect x="1225" y="880" width="1" height="22"/><rect x="1328" y="880" width="1" height="22"/><rect x="1431" y="880" width="1" height="22"/><rect x="1543" y="880" width="1" height="22"/><rect x="1641" y="880" width="1" height="22"/><rect x="1749" y="880" width="1" height="22"/></g><rect x="1857.5" y="872.5" width="16" height="8" fill="#fff" stroke="#000" stroke-width="1"/></svg>
<div class="l r" style="left:0px;top:582.265px;width:26.4px">18.0</div><div class="l r" style="left:1860px;top:582.265px;width:27.5px">18.0</div><div class="l r" style="left:0px;top:564.96px;width:26.4px">18.5</div><div class="l r" style="left:1860px;top:564.96px;width:27.5px">18.5</div><div class="l r" style="left:0px;top:547.6550000000001px;width:26.4px">19.0</div><div class="l r" style="left:1860px;top:547.6550000000001px;width:27.5px">19.0</div><div class="l r" style="left:0px;top:530.35px;width:26.4px">19.5</div><div class="l r" style="left:1860px;top:530.35px;width:27.5px">19.5</div><div class="l r" style="left:0px;top:513.045px;width:26.4px">20.0</div><div class="l r" style="left:1860px;top:513.045px;width:27.5px">20.0</div><div class="l r" style="left:0px;top:495.74px;width:26.4px">20.5</div><div class="l r" style="left:1860px;top:495.74px;width:27.5px">20.5</div><div class="l r" style="left:0px;top:478.43500000000006px;width:26.4px">21.0</div><div class="l r" style="left:1860px;top:478.43500000000006px;width:27.5px">21.0</div><div class="l r" style="left:0px;top:461.13000000000005px;width:26.4px">21.5</div><div class="l r" style="left:1860px;top:461.13000000000005px;width:27.5px">21.5</div><div class="l r" style="left:0px;top:443.82500000000005px;width:26.4px">22.0</div><div class="l r" style="left:1860px;top:443.82500000000005px;width:27.5px">22.0</div><div class="l r" style="left:0px;top:426.52000000000004px;width:26.4px">22.5</div><div class="l r" style="left:1860px;top:426.52000000000004px;width:27.5px">22.5</div><div class="l r" style="left:0px;top:409.21500000000003px;width:26.4px">23.0</div><div class="l r" style="left:1860px;top:409.21500000000003px;width:27.5px">23.0</div><div class="l r" style="left:0px;top:391.91px;width:26.4px">23.5</div><div class="l r" style="left:1860px;top:391.91px;width:27.5px">23.5</div><div class="l r" style="left:0px;top:374.605px;width:26.4px">24.0</div><div class="l r" style="left:1860px;top:374.605px;width:27.5px">24.0</div><div class="l r" style="left:0px;top:357.30000000000007px;width:26.4px">24.5</div><div class="l r" style="left:1860px;top:357.30000000000007px;width:27.5px">24.5</div><div class="l r" style="left:0px;top:339.99500000000006px;width:26.4px">25.0</div><div class="l r" style="left:1860px;top:339.99500000000006px;width:27.5px">25.0</div><div class="l r" style="left:0px;top:322.69000000000005px;width:26.4px">25.5</div><div class="l r" style="left:1860px;top:322.69000000000005px;width:27.5px">25.5</div><div class="l r" style="left:0px;top:305.38500000000005px;width:26.4px">26.0</div><div class="l r" style="left:1860px;top:305.38500000000005px;width:27.5px">26.0</div><div class="l r" style="left:0px;top:288.08000000000004px;width:26.4px">26.5</div><div class="l r" style="left:1860px;top:288.08000000000004px;width:27.5px">26.5</div><div class="l r" style="left:0px;top:270.77500000000003px;width:26.4px">27.0</div><div class="l r" style="left:1860px;top:270.77500000000003px;width:27.5px">27.0</div><div class="l r" style="left:0px;top:253.47px;width:26.4px">27.5</div><div class="l r" style="left:1860px;top:253.47px;width:27.5px">27.5</div><div class="l r" style="left:0px;top:236.165px;width:26.4px">28.0</div><div class="l r" style="left:1860px;top:236.165px;width:27.5px">28.0</div><div class="l r" style="left:0px;top:218.85999999999999px;width:26.4px">28.5</div><div class="l r" style="left:1860px;top:218.85999999999999px;width:27.5px">28.5</div><div class="l r" style="left:0px;top:201.55499999999998px;width:26.4px">29.0</div><div class="l r" style="left:1860px;top:201.55499999999998px;width:27.5px">29.0</div><div class="l r" style="left:0px;top:184.25px;width:26.4px">29.5</div><div class="l r" style="left:1860px;top:184.25px;width:27.5px">29.5</div><div class="l r" style="left:0px;top:166.945px;width:26.4px">30.0</div><div class="l r" style="left:1860px;top:166.945px;width:27.5px">30.0</div><div class="l r" style="left:0px;top:149.64px;width:26.4px">30.5</div><div class="l r" style="left:1860px;top:149.64px;width:27.5px">30.5</div><div class="l r" style="left:0px;top:132.33499999999998px;width:26.4px">31.0</div><div class="l r" style="left:1860px;top:132.33499999999998px;width:27.5px">31.0</div><div class="l r" style="left:0px;top:115.03px;width:26.4px">31.5</div><div class="l r" style="left:1860px;top:115.03px;width:27.5px">31.5</div><div class="l r" style="left:0px;top:97.725px;width:26.4px">32.0</div><div class="l r" style="left:1860px;top:97.725px;width:27.5px">32.0</div><div class="l r" style="left:0px;top:80.41999999999999px;width:26.4px">32.5</div><div class="l r" style="left:1860px;top:80.41999999999999px;width:27.5px">32.5</div><div class="l r" style="left:0px;top:63.115px;width:26.4px">33.0</div><div class="l r" style="left:1860px;top:63.115px;width:27.5px">33.0</div><div class="l r" style="left:0px;top:45.81px;width:26.4px">33.5</div><div class="l r" style="left:1860px;top:45.81px;width:27.5px">33.5</div><div class="l r" style="left:0px;top:28.505000000000003px;width:26.4px">34.0</div><div class="l r" style="left:1860px;top:28.505000000000003px;width:27.5px">34.0</div><div class="l r" style="left:0px;top:11.200000000000001px;width:26.4px">34.5</div><div class="l r" style="left:1860px;top:11.200000000000001px;width:27.5px">34.5</div><div class="l r" style="left:0px;top:869.1px;width:26.4px">-5</div><div class="l r" style="left:0px;top:856.8000000000001px;width:26.4px">0</div><div class="l r" style="left:0px;top:844.5000000000001px;width:26.4px">5</div><div class="l r" style="left:0px;top:832.2px;width:26.4px">10</div><div class="l r" style="left:0px;top:819.9000000000001px;width:26.4px">15</div><div class="l r" style="left:0px;top:807.6px;width:26.4px">20</div><div class="l r" style="left:0px;top:795.3000000000001px;width:26.4px">25</div><div class="l r" style="left:0px;top:783.0000000000001px;width:26.4px">30</div><div class="l r" style="left:0px;top:770.7px;width:26.4px">35</div><div class="l r" style="left:0px;top:758.4000000000001px;width:26.4px">40</div><div class="l r" style="left:0px;top:746.1px;width:26.4px">45</div><div class="l r" style="left:0px;top:733.8000000000001px;width:26.4px">50</div><div class="l r" style="left:0px;top:721.5px;width:26.4px">55</div><div class="l r" style="left:0px;top:709.2px;width:26.4px">60</div><div class="l r" style="left:0px;top:696.9000000000001px;width:26.4px">65</div><div class="l r" style="left:0px;top:684.6000000000001px;width:26.4px">70</div><div class="l r" style="left:0px;top:672.3000000000001px;width:26.4px">75</div><div class="l r" style="left:0px;top:660.0px;width:26.4px">80</div><div class="l r" style="left:0px;top:647.7px;width:26.4px">85</div><div class="l r" style="left:0px;top:635.4000000000001px;width:26.4px">90</div><div class="l r" style="left:0px;top:623.1000000000001px;width:26.4px">95</div><div class="l r" style="left:0px;top:610.8000000000001px;width:26.4px">100</div><div class="l r" style="left:0px;top:598.5px;width:26.4px">105</div><div class="l r" style="left:1860px;top:846.79px;width:27.5px">5000</div><div class="l r" style="left:1860px;top:818.08px;width:27.5px">10000</div><div class="l r" style="left:1860px;top:789.37px;width:27.5px">15000</div><div class="l r" style="left:1860px;top:760.66px;width:27.5px">20000</div><div class="l r" style="left:1860px;top:731.95px;width:27.5px">25000</div><div class="l r" style="left:1860px;top:703.24px;width:27.5px">30000</div><div class="l r" style="left:1860px;top:674.53px;width:27.5px">35000</div><div class="l r" style="left:1860px;top:645.8199999999999px;width:27.5px">40000</div><div class="l r" style="left:1860px;top:617.11px;width:27.5px">45000</div><div class="l" style="left:1859.3px;top:871.6px;font-size:6.5px;color:#222">x100</div><div class="l" style="left:48.8px;top:881.3px;">20</div><div class="l" style="left:72.8px;top:881.3px;">27</div><div class="l" style="left:97.8px;top:881.3px;">3</div><div class="l" style="left:121.8px;top:881.3px;">10</div><div class="l" style="left:146.8px;top:881.3px;">17</div><div class="l" style="left:170.8px;top:881.3px;">24</div><div class="l" style="left:195.8px;top:881.3px;">1</div><div class="l" style="left:219.8px;top:881.3px;">8</div><div class="l" style="left:244.8px;top:881.3px;">15</div><div class="l" style="left:268.8px;top:881.3px;">22</div><div class="l" style="left:293.8px;top:881.3px;">29</div><div class="l" style="left:317.8px;top:881.3px;">5</div><div class="l" style="left:342.8px;top:881.3px;">12</div><div class="l" style="left:362.8px;top:881.3px;">19</div><div class="l" style="left:386.8px;top:881.3px;">26</div><div class="l" style="left:411.8px;top:881.3px;">2</div><div class="l" style="left:435.8px;top:881.3px;">9</div><div class="l" style="left:460.8px;top:881.3px;">16</div><div class="l" style="left:484.8px;top:881.3px;">23</div><div class="l" style="left:509.8px;top:881.3px;">30</div><div class="l" style="left:533.8px;top:881.3px;">7</div><div class="l" style="left:558.8px;top:881.3px;">14</div><div class="l" style="left:582.8px;top:881.3px;">21</div><div class="l" style="left:607.8px;top:881.3px;">28</div><div class="l" style="left:631.8px;top:881.3px;">4</div><div class="l" style="left:656.8px;top:881.3px;">11</div><div class="l" style="left:680.8px;top:881.3px;">18</div><div class="l" style="left:705.8px;top:881.3px;">25</div><div class="l" style="left:729.8px;top:881.3px;">2</div><div class="l" style="left:754.8px;top:881.3px;">9</div><div class="l" style="left:778.8px;top:881.3px;">16</div><div class="l" style="left:803.8px;top:881.3px;">23</div><div class="l" style="left:827.8px;top:881.3px;">6</div><div class="l" style="left:852.8px;top:881.3px;">13</div><div class="l" style="left:876.8px;top:881.3px;">20</div><div class="l" style="left:901.8px;top:881.3px;">27</div><div class="l" style="left:926.8px;top:881.3px;">3</div><div class="l" style="left:950.8px;top:881.3px;">10</div><div class="l" style="left:975.8px;top:881.3px;">17</div><div class="l" style="left:999.8px;top:881.3px;">24</div><div class="l" style="left:1024.8px;top:881.3px;">3</div><div class="l" style="left:1048.8px;top:881.3px;">10</div><div class="l" style="left:1073.8px;top:881.3px;">17</div><div class="l" style="left:1097.8px;top:881.3px;">24</div><div class="l" style="left:1122.8px;top:881.3px;">31</div><div class="l" style="left:1146.8px;top:881.3px;">7</div><div class="l" style="left:1171.8px;top:881.3px;">14</div><div class="l" style="left:1190.8px;top:881.3px;">22</div><div class="l" style="left:1210.8px;top:881.3px;">28</div><div class="l" style="left:1230.8px;top:881.3px;">5</div><div class="l" style="left:1254.8px;top:881.3px;">12</div><div class="l" style="left:1279.8px;top:881.3px;">19</div><div class="l" style="left:1303.8px;top:881.3px;">26</div><div class="l" style="left:1328.8px;top:881.3px;">2</div><div class="l" style="left:1352.8px;top:881.3px;">9</div><div class="l" style="left:1377.8px;top:881.3px;">16</div><div class="l" style="left:1401.8px;top:881.3px;">23</div><div class="l" style="left:1426.8px;top:881.3px;">30</div><div class="l" style="left:1450.8px;top:881.3px;">7</div><div class="l" style="left:1475.8px;top:881.3px;">14</div><div class="l" style="left:1499.8px;top:881.3px;">21</div><div class="l" style="left:1524.8px;top:881.3px;">28</div><div class="l" style="left:1548.8px;top:881.3px;">4</div><div class="l" style="left:1573.8px;top:881.3px;">11</div><div class="l" style="left:1592.8px;top:881.3px;">18</div><div class="l" style="left:1617.8px;top:881.3px;">25</div><div class="l" style="left:1641.8px;top:881.3px;">1</div><div class="l" style="left:1666.8px;top:881.3px;">8</div><div class="l" style="left:1691.8px;top:881.3px;">15</div><div class="l" style="left:1715.8px;top:881.3px;">22</div><div class="l" style="left:1740.8px;top:881.3px;">29</div><div class="l" style="left:1764.8px;top:881.3px;">6</div><div class="l" style="left:1789.8px;top:881.3px;">13</div><div class="l" style="left:1813.8px;top:881.3px;">20</div><div class="l" style="left:1838.8px;top:881.3px;">27</div><div class="l" style="left:97.8px;top:892.3px;">June</div><div class="l" style="left:195.8px;top:892.3px;">July</div><div class="l" style="left:308.8px;top:892.3px;">August</div><div class="l" style="left:411.8px;top:892.3px;">September</div><div class="l" style="left:514.8px;top:892.3px;">October</div><div class="l" style="left:626.8px;top:892.3px;">November</div><div class="l" style="left:729.8px;top:892.3px;">December</div><div class="l" style="left:818.8px;top:892.3px;">2025</div><div class="l" style="left:926.8px;top:892.3px;">February</div><div class="l" style="left:1024.8px;top:892.3px;">March</div><div class="l" style="left:1127.8px;top:892.3px;">April</div><div class="l" style="left:1225.8px;top:892.3px;">May</div><div class="l" style="left:1328.8px;top:892.3px;">June</div><div class="l" style="left:1431.8px;top:892.3px;">July</div><div class="l" style="left:1543.8px;top:892.3px;">August</div><div class="l" style="left:1641.8px;top:892.3px;">September</div><div class="l" style="left:1749.8px;top:892.3px;">October</div>
<div id="title">Azimut Holding (32.8200, 33.0800, 32.6100, 32.7900, +0.07000)</div>
<div id="cp"><span>COPYRIGHT<i>@</i> LABORSADEIPICCOLI.COM</span></div>
<div id="note"><div>Doji line sui 32,79 per Azimut che chiude positiva<br>un po' inaspettatamente rispetto al mercato.<br>Rimane in consolidamento sui massimi.<br>Stop sotto i 30,5 per chi fosse rimasto in buy nelle<br>scorse settimane sul titolo senza prendere profitto.</div></div>
</body></html>
